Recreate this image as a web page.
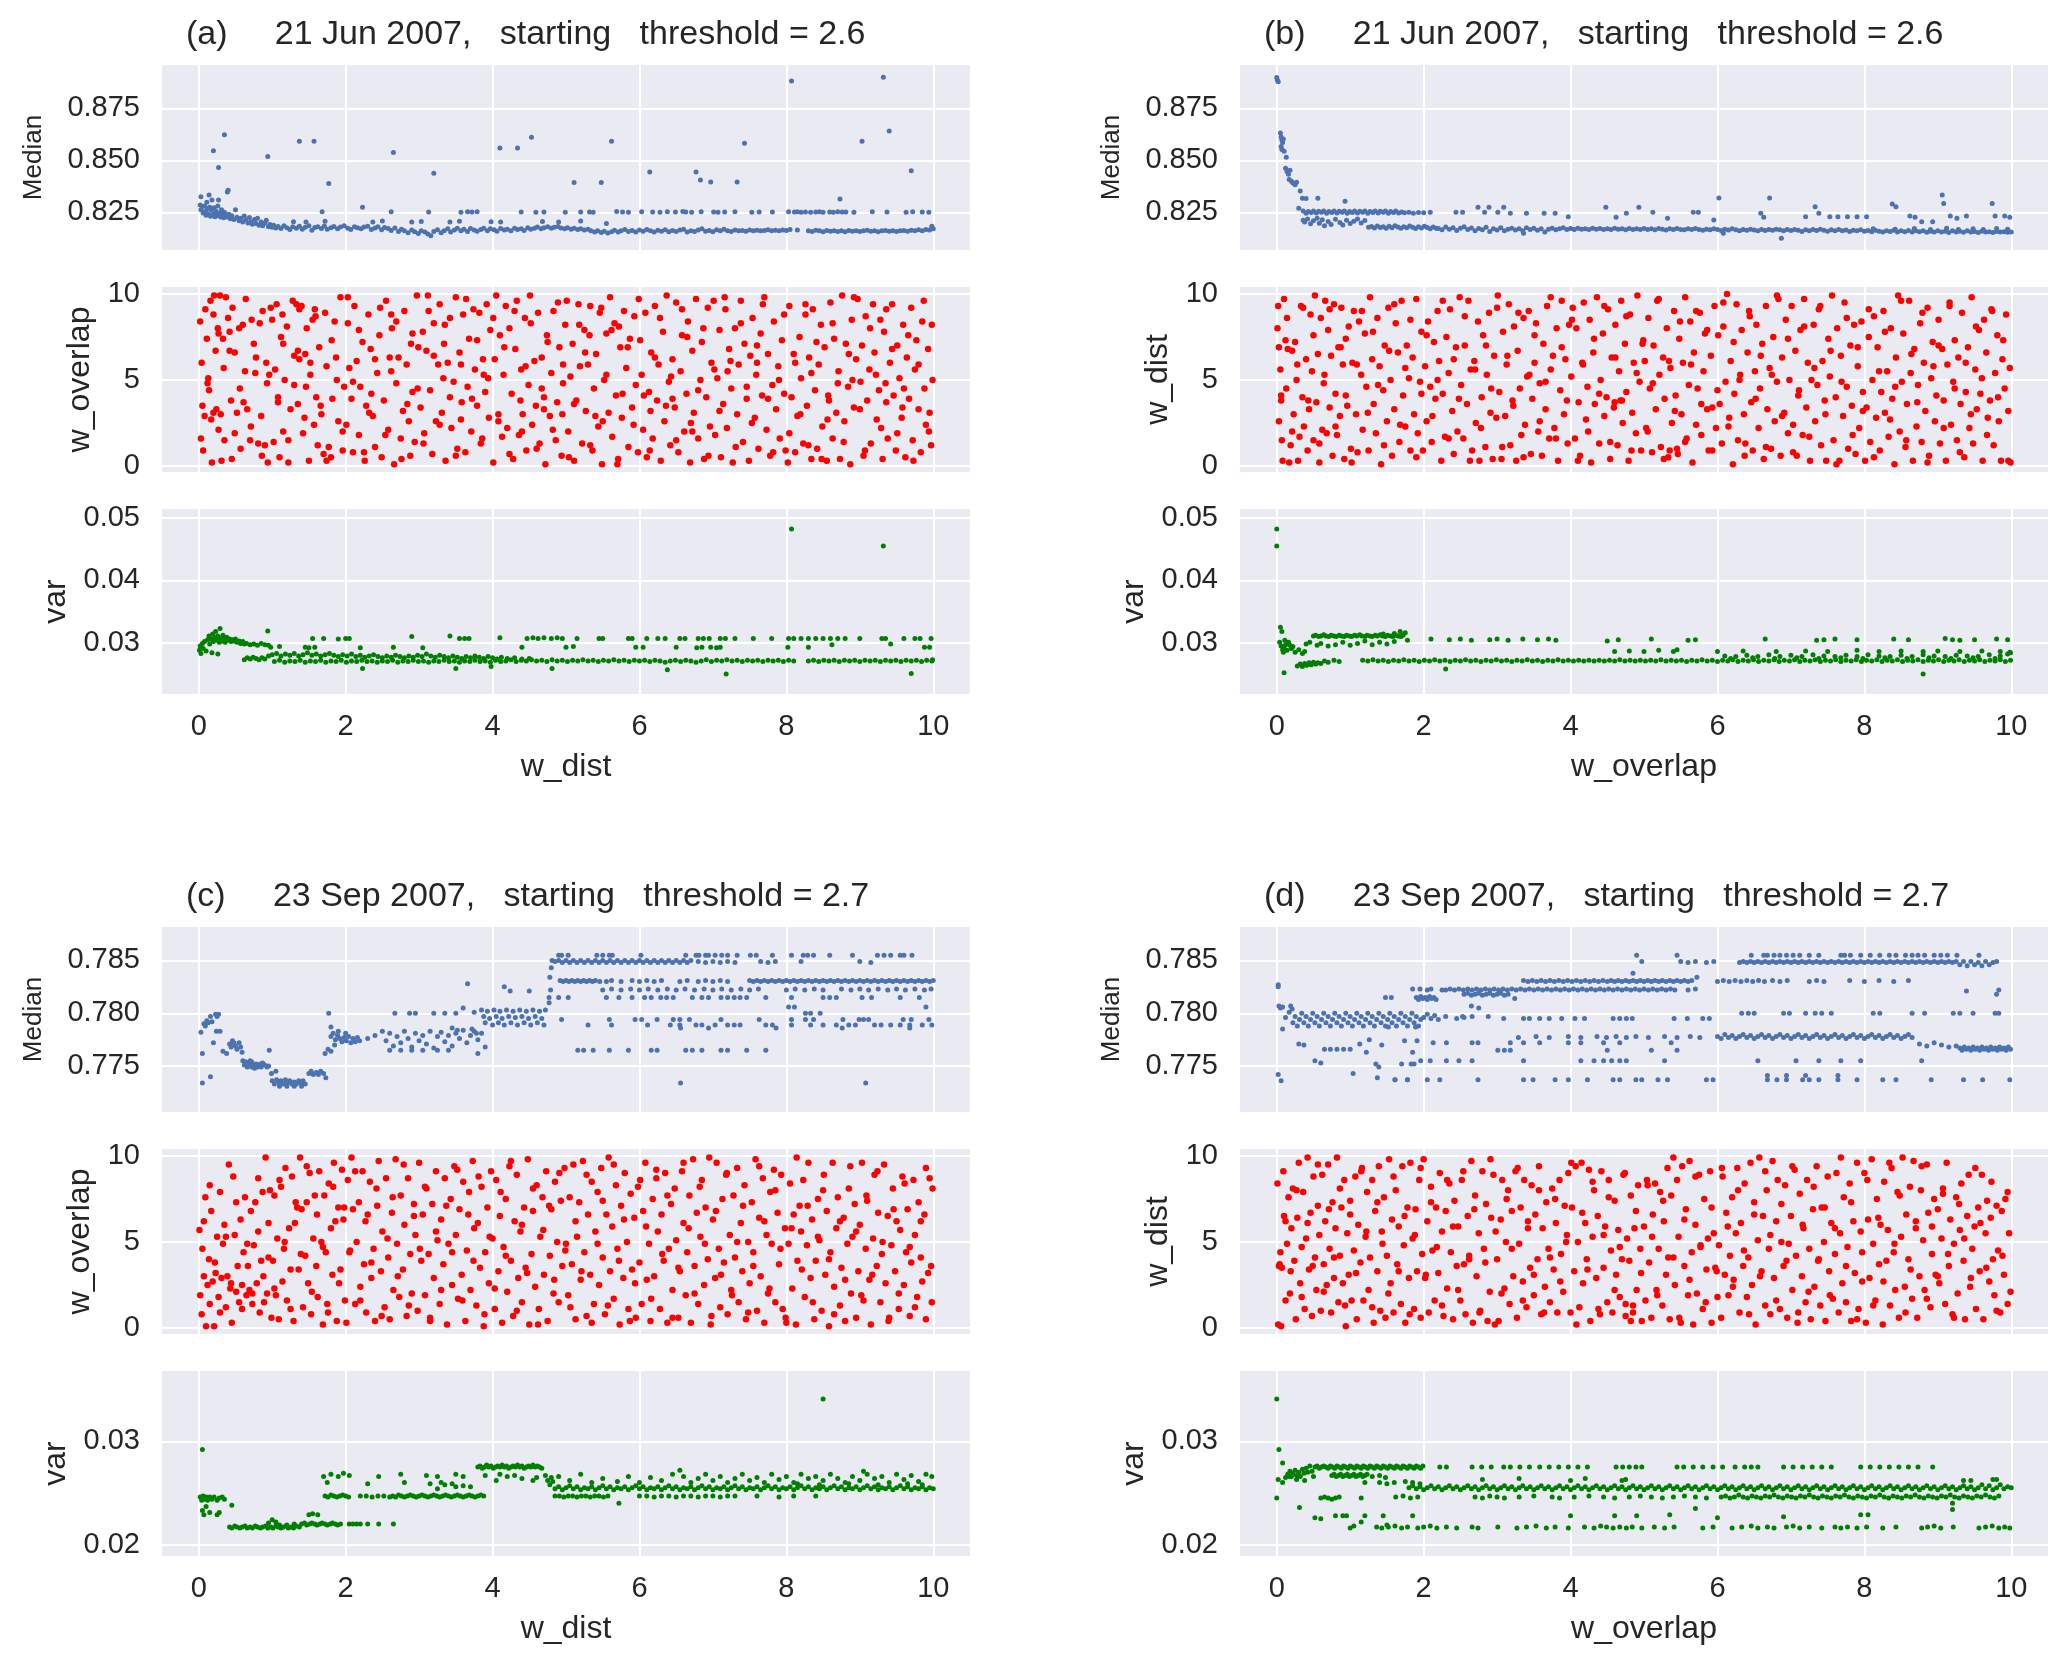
<!DOCTYPE html>
<html>
<head>
<meta charset="utf-8">
<script src="https://cdn.jsdelivr.net/npm/echarts@6/dist/echarts.min.js"></script>
<style>html,body{margin:0;padding:0;background:#fff}#chart{width:2067px;height:1667px}</style>
</head>
<body>
<div id="chart"></div>
<script>
// tick values
var xTicks = [0, 2, 4, 6, 8, 10];
var wTicks = [0, 5, 10];
var junMedTicks = [0.825, 0.850, 0.875];
var junVarTicks = [0.03, 0.04, 0.05];
var sepMedTicks = [0.775, 0.780, 0.785];
var sepVarTicks = [0.02, 0.03];

// 21 Jun 2007 : Median vs w_dist
var junMedVsDist = [
[0.2,.8546],[0.27,.8465],[0.35,.8623],[0.39,.8348],[0.94,.8518],[1.37,.8591],[1.57,.8591],[1.77,.8389],[1.68,.8253],[2.23,.8274],[2.65,.8537],[3.2,.8438],[4.1,.8559],[4.34,.8559],[4.53,.8611],[5.11,.8393],[5.48,.8393],[5.62,.8591],[6.14,.8444],[6.77,.8444],[6.83,.8405],[6.97,.8396],[7.33,.8396],[7.43,.8582],[8.07,.8881],[8.73,.8314],[9.03,.8591],[9.32,.8899],[9.4,.8641],[9.7,.845],
[0.03,.8325],[0.14,.8333],[0.27,.8309],[0.4,.8356],
[0.02,.8285],[0.03,.8262],[0.05,.8278],[0.06,.8247],[0.08,.8281],[0.09,.8255],[0.1,.8236],[0.11,.8299],[0.12,.8268],[0.13,.8243],[0.15,.8275],[0.16,.8231],[0.17,.8262],[0.18,.8309],[0.19,.8241],[0.21,.8272],[0.22,.8229],[0.23,.8256],[0.24,.8238],[0.26,.8281],[0.27,.8233],[0.28,.8248],[0.3,.8227],[0.31,.8262],[0.32,.8239],[0.34,.8224],[0.35,.8251],[0.37,.8232],
[0.39,.8228],[0.41,.8241],[0.43,.8219],[0.45,.8233],[0.48,.8215],[0.5,.8262],[0.52,.8226],[0.55,.8209],[0.57,.8221],[0.6,.8204],[0.62,.8232],[0.64,.8214],[0.67,.8199],[0.69,.8225],[0.71,.8205],[0.73,.8193],[0.76,.8215],[0.78,.8196],[0.8,.8221],[0.82,.8188],[0.85,.8203],[0.87,.8185],[0.9,.8198],[0.92,.8212],[0.95,.8181],[0.97,.8192],[1.0,.8178],[1.02,.8188],[1.05,.8175],
[1.08,.8182],[1.12,.8172],[1.16,.8185],[1.2,.8176],[1.24,.8168],[1.28,.8181],[1.33,.8174],[1.37,.8183],[1.41,.8169],[1.45,.8178],[1.5,.8186],[1.54,.8164],[1.58,.8177],[1.62,.8181],[1.67,.8172],[1.71,.8184],[1.75,.8169],[1.8,.8176],[1.84,.8182],[1.89,.8171],[1.93,.8179],[1.98,.8185],[2.03,.8174],[2.07,.8168],[2.12,.8181],[2.16,.8176],[2.21,.8171],[2.25,.8179],[2.3,.8183],[2.35,.8168],[2.4,.8175],[2.44,.8181],[2.49,.8166],[2.53,.8177],[2.58,.8172],[2.62,.8163],[2.67,.8175],[2.72,.8158],[2.76,.8169],[2.8,.8161],[2.85,.8152],[2.9,.8165],[2.94,.8157],[2.99,.8148],[3.03,.8162],[3.08,.8155],[3.12,.8146],[3.16,.8138],[3.2,.8158],[3.25,.8166],[3.3,.8152],[3.34,.8161],[3.39,.8171],[3.43,.8156],[3.48,.8165],[3.52,.8174],[3.57,.8161],[3.61,.8169],[3.66,.8158],[3.7,.8172],[3.75,.8165],[3.79,.8159],[3.84,.8168],[3.88,.8174],[3.93,.8162],[3.97,.8171],[4.02,.8166],[4.06,.8159],[4.11,.8172],[4.16,.8165],[4.2,.8169],[4.25,.8161],[4.3,.8174],[4.34,.8167],[4.39,.8171],[4.43,.8163],[4.48,.8176],[4.52,.8169],[4.57,.8174],[4.61,.8179],[4.66,.8171],[4.7,.8176],[4.75,.8181],[4.8,.8173],[4.84,.8178],[4.89,.8182],[4.93,.8175],[4.98,.8171],[5.02,.8176],[5.07,.8169],[5.11,.8173],[5.16,.8167],[5.2,.8171],[5.25,.8165],[5.3,.8169],[5.34,.8161],[5.39,.8156],[5.43,.8162],[5.48,.8153],[5.52,.8159],[5.57,.8151],[5.62,.8157],[5.66,.8164],[5.71,.8155],[5.75,.8161],[5.8,.8167],[5.85,.8158],[5.9,.8163],[5.95,.8156],[6.0,.8165],[6.05,.8159],[6.1,.8168],[6.15,.8161],[6.2,.8156],[6.25,.8164],[6.3,.8159],[6.35,.8166],[6.4,.8157],[6.45,.8163],[6.5,.8158],[6.55,.8165],[6.6,.8169],[6.65,.8156],[6.7,.8162],[6.75,.8158],[6.8,.8165],[6.85,.8171],[6.9,.8159],[6.95,.8163],[7.0,.8157],[7.05,.8166],[7.1,.8161],[7.15,.8169],[7.2,.8162],[7.25,.8158],[7.3,.8165],[7.35,.8161],[7.4,.8163],[7.45,.8159],[7.5,.8165],[7.55,.8162],[7.6,.8164],[7.65,.8161],[7.7,.8163],[7.75,.8166],[7.8,.8162],[7.85,.8164],[7.9,.8161],[7.95,.8165],[8.0,.8163],[8.05,.8167],[8.15,.8165],[8.3,.8162],[8.35,.8158],[8.4,.8164],[8.45,.8161],[8.5,.8157],[8.55,.8163],[8.6,.8159],[8.65,.8162],[8.7,.8158],[8.75,.8161],[8.8,.8157],[8.85,.8163],[8.9,.8159],[8.95,.8162],[9.0,.8158],[9.05,.8161],[9.1,.8164],[9.15,.8159],[9.2,.8162],[9.25,.8157],[9.3,.8161],[9.35,.8163],[9.4,.8159],[9.45,.8162],[9.5,.8158],[9.55,.8161],[9.6,.8163],[9.65,.8159],[9.7,.8164],[9.75,.8161],[9.8,.8166],[9.85,.8162],[9.9,.8168],[9.95,.8165],[10.0,.8171],[9.98,.8183],
[1.29,.8205],[1.46,.8203],[1.72,.8207],[2.37,.8204],[2.5,.8208],[2.9,.8203],[3.03,.8206],[3.42,.8204],[3.55,.8207],[3.98,.8205],[4.11,.8203],[4.68,.8206],[4.9,.8204],[5.2,.8208],[5.55,.8196],
[2.62,.8253],[3.13,.8252],[3.57,.8251],[3.66,.8253],[3.72,.8252],[3.79,.8253],[4.39,.8252],[4.59,.8251],[4.7,.8252],[4.99,.8251],[5.2,.8252],[5.32,.8252],[5.37,.8251],[5.69,.8254],[5.77,.8252],[5.85,.8251],[6.03,.8253],[6.18,.8252],[6.28,.8251],[6.38,.8253],[6.49,.8252],[6.59,.8254],[6.63,.8252],[6.71,.8251],[6.84,.8253],[7.01,.8252],[7.07,.8251],[7.16,.8252],[7.3,.8253],[7.53,.8251],[7.63,.8252],[7.81,.8252],[8.03,.8253],[8.11,.8252],[8.15,.8253],[8.2,.8251],[8.26,.8252],[8.33,.8251],[8.4,.8252],[8.45,.8253],[8.5,.8251],[8.59,.8252],[8.64,.8251],[8.7,.8253],[8.76,.8252],[8.81,.8252],[8.92,.8251],[9.17,.8253],[9.37,.8252],[9.63,.8251],[9.72,.8253],[9.85,.8252],[9.94,.8251]
];

// 21 Jun 2007 : w_overlap vs w_dist
var junOverlapVsDist = [
[0.02,8.4],[0.04,6.0],[0.03,1.6],[0.06,0.9],[0.09,9.1],[0.11,7.4],[0.13,5.1],[0.14,4.4],[0.16,9.6],[0.17,2.7],[0.18,0.2],[0.21,9.9],[0.23,6.7],[0.24,3.3],[0.26,8.0],[0.29,9.9],[0.3,3.0],[0.31,0.3],[0.33,7.4],[0.35,1.5],[0.37,9.8],[0.4,8.6],[0.42,6.7],[0.44,3.8],[0.46,9.2],[0.49,6.6],[0.52,3.1],[0.55,8.0],[0.57,1.0],[0.61,3.7],[0.63,5.5],[0.66,3.3],[0.7,1.5],[0.72,8.5],[0.75,7.1],[0.77,5.4],[0.81,1.3],[0.85,2.9],[0.87,9.0],[0.9,1.2],[0.92,6.0],[0.94,0.2],[0.96,5.3],[0.98,9.2],[0.08,2.9],[0.2,3.1],[0.27,7.7],[0.45,0.4],[0.6,8.2],[0.83,8.3],
[1.02,1.4],[1.04,5.6],[1.06,9.4],[1.08,4.0],[1.1,0.5],[1.12,7.5],[1.15,2.0],[1.17,5.0],[1.2,8.1],[1.22,0.2],[1.25,3.3],[1.28,9.6],[1.3,6.4],[1.33,9.4],[1.35,3.6],[1.37,6.2],[1.4,9.3],[1.42,1.9],[1.45,6.5],[1.47,8.0],[1.5,0.3],[1.52,5.3],[1.55,8.5],[1.57,2.4],[1.6,4.0],[1.62,1.2],[1.64,6.9],[1.67,3.0],[1.7,0.7],[1.72,8.9],[1.74,5.8],[1.77,1.1],[1.8,0.5],[1.82,3.9],[1.85,8.4],[1.87,6.3],[1.9,2.6],[1.93,9.8],[1.96,0.9],[1.98,4.6],[1.35,6.7],[1.58,9.1],[1.14,8.8],[1.46,4.6],
[2.01,2.4],[2.03,8.3],[2.05,5.7],[2.08,3.9],[2.1,0.8],[2.12,9.3],[2.15,6.1],[2.18,1.8],[2.2,4.6],[2.23,7.2],[2.26,0.3],[2.28,3.5],[2.31,8.8],[2.34,6.8],[2.37,2.9],[2.4,1.1],[2.43,5.4],[2.46,7.6],[2.49,0.5],[2.52,3.8],[2.55,9.6],[2.58,2.1],[2.6,6.3],[2.63,8.0],[2.66,0.1],[2.69,4.8],[2.72,6.3],[2.75,1.6],[2.78,3.2],[2.8,9.0],[2.83,5.9],[2.86,2.6],[2.89,7.1],[2.91,4.3],[2.94,1.4],[2.97,9.9],[2.99,6.9],[2.35,4.2],[2.62,8.8],[2.88,0.6],
[3.02,3.4],[3.05,7.8],[3.07,1.9],[3.1,6.7],[3.12,9.9],[3.15,4.4],[3.18,0.7],[3.2,8.3],[3.23,2.6],[3.26,5.9],[3.28,9.4],[3.31,3.1],[3.34,7.1],[3.36,0.3],[3.39,6.0],[3.42,8.6],[3.44,2.2],[3.47,4.9],[3.5,9.8],[3.52,1.0],[3.55,6.6],[3.58,3.7],[3.6,8.8],[3.63,0.8],[3.66,4.6],[3.68,7.4],[3.71,2.0],[3.74,9.1],[3.76,5.6],[3.79,3.5],[3.82,8.9],[3.84,1.3],[3.87,6.2],[3.9,4.3],[3.92,9.4],[3.95,2.8],[3.97,7.9],[3.33,5.1],[3.57,2.7],[3.88,5.3],
[4.01,0.2],[4.03,6.2],[4.05,9.9],[4.08,3.0],[4.1,7.6],[4.13,1.7],[4.15,5.3],[4.18,9.3],[4.2,2.2],[4.23,8.0],[4.26,4.2],[4.28,0.4],[4.31,6.8],[4.33,9.6],[4.36,1.8],[4.39,5.6],[4.41,3.0],[4.44,8.6],[4.46,0.9],[4.49,4.7],[4.51,9.9],[4.54,2.4],[4.57,6.1],[4.59,3.5],[4.62,8.9],[4.64,1.3],[4.67,6.3],[4.7,4.0],[4.72,0.1],[4.75,7.2],[4.78,2.9],[4.8,5.4],[4.83,9.0],[4.86,1.5],[4.88,3.7],[4.91,6.9],[4.94,0.6],[4.96,4.8],[4.99,8.2],[4.4,2.0],[4.7,3.3],[4.95,3.0],
[5.01,9.6],[5.03,2.0],[5.06,5.2],[5.09,7.1],[5.11,0.3],[5.14,3.8],[5.17,9.4],[5.19,5.8],[5.22,1.3],[5.25,7.9],[5.27,3.2],[5.3,5.9],[5.33,9.3],[5.36,0.9],[5.38,4.5],[5.41,6.5],[5.44,2.3],[5.46,8.9],[5.49,0.1],[5.52,5.0],[5.55,7.7],[5.58,3.1],[5.6,9.8],[5.63,1.7],[5.66,8.3],[5.68,4.1],[5.71,0.4],[5.74,6.9],[5.76,2.8],[5.79,9.0],[5.82,5.7],[5.85,1.1],[5.87,7.4],[5.9,3.4],[5.93,8.7],[5.95,4.7],[5.98,0.8],[5.5,2.6],[5.72,8.1],[5.32,7.6],
[6.01,7.3],[6.03,5.3],[6.05,2.1],[6.08,8.9],[6.1,0.5],[6.13,4.3],[6.16,6.6],[6.18,1.6],[6.21,9.3],[6.24,3.8],[6.26,5.9],[6.29,0.3],[6.32,7.8],[6.34,2.6],[6.37,9.9],[6.4,4.9],[6.42,1.2],[6.45,6.2],[6.48,3.4],[6.5,9.5],[6.53,0.8],[6.56,5.5],[6.58,7.6],[6.61,2.0],[6.64,4.2],[6.66,8.4],[6.69,0.2],[6.72,6.7],[6.74,3.1],[6.77,9.7],[6.8,1.6],[6.83,5.0],[6.85,7.2],[6.88,0.4],[6.91,4.0],[6.93,9.2],[6.96,2.3],[6.98,6.0],[6.15,3.2],[6.45,3.9],[6.7,2.5],
[7.01,9.6],[7.03,1.8],[7.06,5.1],[7.09,7.9],[7.11,0.5],[7.14,3.6],[7.17,9.1],[7.19,2.2],[7.22,6.8],[7.25,4.5],[7.27,0.2],[7.3,8.0],[7.33,3.0],[7.35,5.9],[7.38,9.6],[7.41,1.4],[7.43,7.1],[7.46,3.9],[7.49,0.3],[7.51,6.4],[7.54,8.6],[7.57,2.8],[7.59,5.3],[7.62,1.0],[7.65,7.7],[7.67,4.1],[7.7,9.8],[7.73,2.1],[7.75,6.5],[7.78,0.6],[7.81,4.7],[7.83,8.4],[7.86,3.3],[7.89,5.8],[7.91,1.6],[7.94,7.3],[7.97,4.2],[7.99,0.9],[7.2,5.5],[7.6,6.0],
[8.02,0.2],[8.04,9.3],[8.07,4.0],[8.1,6.5],[8.12,0.8],[8.15,2.9],[8.18,7.5],[8.2,5.1],[8.23,1.3],[8.26,8.8],[8.28,3.5],[8.31,6.3],[8.34,0.4],[8.36,9.1],[8.39,4.4],[8.42,1.0],[8.44,5.9],[8.47,8.2],[8.49,2.3],[8.52,6.9],[8.55,0.3],[8.57,4.1],[8.6,9.5],[8.63,1.6],[8.65,7.4],[8.68,3.1],[8.71,5.5],[8.73,0.4],[8.76,9.9],[8.79,2.6],[8.81,7.1],[8.84,4.6],[8.87,0.1],[8.89,8.5],[8.92,3.4],[8.95,6.2],[8.97,9.7],[8.3,1.2],[8.58,3.8],[8.9,5.0],
[9.01,4.9],[9.03,7.0],[9.05,0.6],[9.08,8.7],[9.1,3.8],[9.13,5.6],[9.15,1.3],[9.18,9.4],[9.2,6.6],[9.23,2.7],[9.26,4.4],[9.28,8.5],[9.31,0.4],[9.33,7.8],[9.36,3.7],[9.38,1.6],[9.41,6.0],[9.44,9.4],[9.46,4.1],[9.49,0.9],[9.51,7.0],[9.54,5.1],[9.57,2.8],[9.59,8.2],[9.62,0.5],[9.64,6.3],[9.67,3.9],[9.7,9.2],[9.72,1.5],[9.75,5.6],[9.77,7.3],[9.8,3.3],[9.83,0.8],[9.85,8.4],[9.88,4.5],[9.9,2.4],[9.93,6.8],[9.95,3.1],[9.98,8.2],[9.99,5.0],[9.97,1.2],[9.35,4.8],[9.6,4.5],
[9.94,2.0],[9.87,9.6],[9.8,5.9],[9.73,0.3],[9.66,7.6],[9.58,3.4],[9.51,1.9],[9.44,6.8],[9.36,9.1],[9.29,2.2],[9.22,5.3],[9.14,8.0],[9.07,0.9],[9.0,3.3],[8.92,9.8],[8.85,6.5],[8.78,1.4],[8.7,4.8],[8.63,8.3],[8.56,2.7],[8.48,0.4],[8.41,7.2],[8.34,5.4],[8.26,9.4],[8.19,3.0],[8.12,6.0],[8.04,1.9],[7.97,8.8],[7.9,5.0],[7.82,0.8],[7.75,3.9],[7.68,9.4],[7.6,7.0],[7.53,2.5],[7.46,4.6],[7.38,8.3],[7.31,1.1],[7.24,6.1],[7.16,9.8],[7.09,3.2],[7.02,5.6],[6.94,0.6],[6.87,8.0],[6.8,4.4],[6.72,2.0],[6.65,7.5],[6.58,9.1],[6.5,1.5],[6.43,5.2],[6.36,3.5],[6.28,8.6],[6.21,6.3],[6.14,0.9],[6.06,4.1],[5.99,9.7],[5.92,2.4],[5.84,6.9],[5.77,4.2],[5.7,0.1],[5.62,7.9],[5.55,5.3],[5.48,9.2],[5.4,2.9],[5.33,1.2],[5.26,6.6],[5.18,8.2],[5.11,3.6],[5.04,0.5],[4.96,5.9],[4.89,9.5],[4.82,2.1],[4.74,7.6],[4.67,4.5],[4.6,1.0],[4.52,8.3],[4.45,5.8],[4.38,3.8],[4.3,9.0],[4.23,0.7],[4.16,6.9],[4.08,2.6],[4.01,8.6],[3.94,5.1],[3.86,1.6],[3.79,7.3],[3.72,3.9],[3.64,9.7],[3.57,5.9],[3.5,0.6],[3.42,4.0],[3.35,8.2],[3.28,2.4],[3.2,6.4],[3.13,9.0],[3.06,1.3],[2.98,4.5],[2.91,7.7],[2.84,3.6],[2.76,0.4],[2.69,8.4],[2.62,5.5],[2.54,1.8],[2.47,9.2],[2.4,6.2],[2.32,3.1],[2.25,0.8],[2.18,7.9],[2.1,4.9],[2.03,9.8],[1.96,2.0],[1.88,5.0],[1.81,7.3],[1.74,0.3],[1.66,3.5],[1.59,8.7],[1.52,6.0],[1.44,2.8],[1.37,9.1],[1.3,4.7],[1.22,1.5],[1.15,7.1],[1.08,3.7],[1.0,8.5],[0.93,4.8],[0.86,0.6],[0.78,6.3],[0.71,2.3],[0.64,9.7],[0.56,4.5],[0.49,1.9],[0.42,7.8],[0.34,5.7],[0.27,2.1],[0.2,8.8],[0.12,4.8],[0.05,3.5]
];

// 21 Jun 2007 : var vs w_dist
var junVarVsDist = [
[8.07,.0482],[9.32,.0455],[7.18,.0250],[9.7,.0251],[6.38,.0257],[2.23,.0259],[3.5,.0259],[4.81,.0259],[3.98,.0262],[0.94,.0319],
[0.01,.0288],[0.02,.0295],[0.03,.0283],[0.05,.0299],[0.06,.0291],[0.08,.0302],[0.1,.0287],[0.18,.0284],[0.26,.0282],
[0.12,.0305],[0.14,.0311],[0.15,.0298],[0.17,.0306],[0.19,.0314],[0.2,.0302],[0.22,.0309],[0.23,.0318],[0.25,.0304],[0.26,.0311],[0.28,.0301],[0.29,.0323],[0.3,.0307],[0.32,.0303],[0.33,.0312],[0.35,.0306],[0.36,.0301],[0.38,.0309],[0.4,.0304],[0.42,.0306],[0.44,.0302],[0.46,.0305],[0.48,.0303],[0.5,.0306],[0.52,.0301],[0.55,.0303],[0.57,.0299],[0.6,.0302],[0.62,.0298],
[0.65,.0299],[0.7,.0297],[0.75,.0298],[0.8,.0296],[0.85,.0299],[0.9,.0297],[0.95,.0296],
[0.62,.0273],[0.66,.0276],[0.7,.0274],[0.74,.0277],[0.78,.0275],[0.82,.0273],[0.86,.0276],[0.9,.0274],[0.95,.0279],
[1.0,.0281],[1.06,.0283],[1.12,.0279],[1.18,.0282],[1.24,.0280],[1.3,.0283],[1.36,.0279],[1.42,.0281],[1.48,.0284],[1.54,.0280],[1.6,.0282],[1.66,.0279],[1.72,.0281],[1.78,.0283],[1.84,.0280],[1.9,.0278],[1.96,.0281],[2.02,.0279],[2.08,.0282],[2.14,.0278],[2.2,.0280],[2.26,.0277],[2.32,.0279],[2.38,.0281],[2.44,.0278],[2.5,.0276],[2.56,.0279],[2.62,.0277],[2.68,.0280],[2.74,.0278],[2.8,.0276],[2.86,.0279],[2.92,.0277],[2.98,.0280],[3.04,.0278],[3.1,.0282],[3.16,.0279],[3.22,.0277],[3.28,.0280],[3.34,.0278],[3.4,.0276],[3.46,.0279],[3.52,.0277],[3.58,.0275],[3.64,.0278],[3.7,.0276],[3.76,.0279],[3.82,.0277],[3.88,.0275],[3.94,.0278],[4.0,.0276],[4.06,.0274],[4.12,.0277],[4.2,.0275],[4.3,.0276],[4.4,.0274],[4.5,.0275],
[1.03,.0270],[1.1,.0272],[1.17,.0269],[1.24,.0271],[1.31,.0270],[1.38,.0272],[1.45,.0269],[1.52,.0271],[1.59,.0270],[1.66,.0272],[1.73,.0269],[1.8,.0271],[1.87,.0270],[1.94,.0272],[2.01,.0269],[2.08,.0271],[2.15,.0270],[2.22,.0272],[2.29,.0270],[2.36,.0271],[2.43,.0269],[2.5,.0271],[2.57,.0270],[2.64,.0272],[2.71,.0269],[2.78,.0271],[2.85,.0270],[2.92,.0272],[2.99,.0270],[3.06,.0271],[3.13,.0269],[3.2,.0271],[3.27,.0270],[3.34,.0272],[3.41,.0270],[3.48,.0271],[3.55,.0269],[3.62,.0271],[3.69,.0270],[3.76,.0272],[3.83,.0270],[3.9,.0271],[3.97,.0269],[4.04,.0272],[4.11,.0270],[4.18,.0271],[4.25,.0273],[4.32,.0270],[4.39,.0272],[4.46,.0271],[4.53,.0273],[4.6,.0271],[4.67,.0272],[4.74,.0270],[4.81,.0273],[4.88,.0271],[4.95,.0272],[5.02,.0270],[5.09,.0272],[5.16,.0271],[5.23,.0273],[5.3,.0271],[5.37,.0272],[5.44,.0270],[5.51,.0272],[5.58,.0271],[5.65,.0273],[5.72,.0271],[5.79,.0272],[5.86,.0270],[5.93,.0272],[6.0,.0271],[6.07,.0272],[6.14,.0270],[6.21,.0272],[6.28,.0271],[6.35,.0269],[6.42,.0271],[6.49,.0272],[6.56,.0270],[6.63,.0272],[6.7,.0271],[6.77,.0269],[6.84,.0271],[6.91,.0273],[6.98,.0270],[7.05,.0272],[7.12,.0271],[7.19,.0273],[7.26,.0271],[7.33,.0272],[7.4,.0270],[7.47,.0272],[7.54,.0271],[7.61,.0272],[7.68,.0270],[7.75,.0272],[7.82,.0271],[7.89,.0272],[7.96,.0270],[8.03,.0272],[8.1,.0271],[8.3,.0271],[8.37,.0272],[8.44,.0270],[8.51,.0272],[8.58,.0271],[8.65,.0272],[8.72,.0270],[8.79,.0272],[8.86,.0271],[8.93,.0272],[9.0,.0270],[9.07,.0272],[9.14,.0271],[9.21,.0272],[9.28,.0270],[9.35,.0272],[9.42,.0271],[9.49,.0272],[9.56,.0270],[9.63,.0272],[9.7,.0271],[9.77,.0272],[9.84,.0270],[9.91,.0272],[9.98,.0271],[9.99,.0273],
[1.55,.0307],[1.7,.0307],[1.9,.0306],[2.0,.0307],[2.05,.0307],[2.9,.0310],[3.42,.0311],[3.55,.0307],[3.62,.0307],[3.68,.0307],[4.1,.0308],[4.47,.0307],[4.55,.0308],[4.62,.0307],[4.7,.0308],[4.8,.0307],[4.88,.0308],[4.95,.0307],[5.15,.0307],[5.45,.0307],[5.5,.0307],[5.85,.0307],[5.9,.0307],[6.1,.0307],[6.25,.0307],[6.35,.0307],[6.55,.0307],[6.62,.0307],[6.8,.0307],[6.87,.0307],[6.95,.0307],[7.1,.0307],[7.17,.0307],[7.3,.0307],[7.55,.0307],[7.8,.0307],[8.03,.0307],[8.1,.0307],[8.2,.0307],[8.3,.0307],[8.4,.0307],[8.5,.0307],[8.6,.0307],[8.7,.0307],[8.8,.0307],[9.0,.0307],[9.3,.0307],[9.35,.0307],[9.6,.0307],[9.75,.0307],[9.82,.0307],[9.97,.0307],
[0.98,.0293],[1.1,.0294],[1.45,.0293],[1.5,.0292],[1.58,.0293],[2.2,.0292],[2.65,.0293],[3.05,.0292],[4.4,.0293],[5.0,.0293],[5.1,.0294],[5.95,.0293],[6.05,.0293],[6.5,.0293],[6.78,.0292],[6.85,.0293],[6.97,.0293],[7.05,.0292],[7.1,.0293],[8.02,.0293],[8.3,.0293],[8.62,.0297],[9.42,.0298],[9.88,.0293],[9.95,.0293]
];

// 21 Jun 2007 : Median vs w_overlap
var junMedVsOverlap = [
[0.0,.8898],[0.01,.8885],[0.02,.8877],[0.05,.8631],[0.06,.8612],[0.07,.8598],[0.08,.8585],[0.06,.8566],[0.07,.8552],[0.09,.8603],[0.1,.8543],[0.13,.8515],[0.12,.8462],[0.14,.8446],[0.18,.8452],[0.16,.8433],[0.17,.8408],[0.2,.8399],[0.22,.8391],[0.25,.8382],[0.27,.8395],[0.32,.8353],[0.35,.8318],[0.4,.8316],[0.56,.8318],[0.93,.8303],[0.3,.8270],
[0.36,.8256],[0.4,.8246],[0.43,.8254],[0.47,.8249],[0.5,.8256],[0.54,.8247],[0.57,.8255],[0.61,.8250],[0.64,.8256],[0.68,.8246],[0.71,.8254],[0.75,.8249],[0.78,.8256],[0.82,.8247],[0.85,.8255],[0.89,.8250],[0.92,.8256],[0.96,.8246],[0.99,.8254],[1.03,.8249],[1.06,.8256],[1.1,.8247],[1.13,.8255],[1.17,.8250],[1.2,.8256],[1.24,.8246],[1.27,.8254],[1.31,.8249],[1.34,.8256],[1.38,.8247],[1.41,.8255],[1.45,.8250],[1.48,.8256],[1.52,.8246],[1.55,.8254],[1.59,.8249],[1.62,.8256],[1.66,.8247],[1.7,.8252],[1.74,.8248],[1.8,.8250],[1.86,.8246],[1.93,.8249],[2.0,.8248],
[0.36,.8212],[0.38,.8203],[0.42,.8218],[0.46,.8195],[0.5,.8209],[0.55,.8221],[0.58,.8198],[0.62,.8214],[0.65,.8186],[0.7,.8206],[0.74,.8192],[0.8,.8217],[0.86,.8201],[0.9,.8189],[0.95,.8212],[1.0,.8196],[1.05,.8207],[1.1,.8218],[1.15,.8199],[1.2,.8211],
[1.25,.8178],[1.29,.8182],[1.33,.8175],[1.37,.8184],[1.41,.8177],[1.45,.8181],[1.49,.8174],[1.53,.8183],[1.57,.8176],[1.61,.8185],[1.65,.8179],[1.69,.8173],[1.73,.8181],[1.77,.8176],[1.81,.8184],[1.85,.8178],[1.89,.8172],[1.93,.8181],[1.97,.8175],[2.01,.8183],[2.05,.8177],[2.09,.8171],[2.13,.8179],[2.17,.8174],
[2.2,.8172],[2.25,.8166],[2.3,.8179],[2.35,.8169],[2.4,.8176],[2.45,.8163],[2.5,.8174],[2.55,.8181],[2.6,.8168],[2.65,.8175],[2.7,.8161],[2.75,.8172],[2.8,.8166],[2.85,.8178],[2.9,.8158],[2.95,.8171],[3.0,.8165],[3.05,.8176],[3.1,.8162],[3.15,.8169],[3.2,.8174],[3.25,.8165],[3.3,.8171],[3.35,.8161],[3.4,.8176],[3.45,.8168],[3.5,.8173],[3.55,.8164],[3.6,.8171],[3.65,.8155],[3.7,.8169],[3.75,.8174],[3.8,.8166],[3.85,.8171],[3.9,.8176],[3.95,.8167],[4.0,.8172],[4.05,.8168],[4.1,.8174],[4.15,.8169],[4.2,.8171],[4.25,.8167],[4.3,.8173],[4.35,.8169],[4.4,.8172],[4.45,.8168],[4.5,.8171],[4.55,.8167],[4.6,.8173],[4.65,.8169],[4.7,.8171],[4.75,.8166],[4.8,.8172],[4.85,.8168],[4.9,.8171],[4.95,.8167],[5.0,.8172],[5.05,.8168],[5.1,.8171],[5.15,.8166],[5.2,.8172],[5.25,.8169],[5.3,.8165],[5.35,.8171],[5.4,.8167],[5.45,.8172],[5.5,.8168],[5.55,.8166],[5.6,.8171],[5.65,.8167],[5.7,.8172],[5.75,.8168],[5.8,.8164],[5.85,.8169],[5.9,.8166],[5.95,.8171],[6.0,.8167],[6.05,.8163],[6.1,.8169],[6.15,.8165],[6.2,.8171],[6.25,.8166],[6.3,.8162],[6.35,.8168],[6.4,.8164],[6.45,.8169],[6.5,.8165],[6.55,.8161],[6.6,.8167],[6.65,.8163],[6.7,.8168],[6.75,.8164],[6.8,.8169],[6.85,.8166],[6.9,.8161],[6.95,.8167],[7.0,.8163],[7.05,.8168],[7.1,.8164],[7.15,.8158],[7.2,.8166],[7.25,.8162],[7.3,.8167],[7.35,.8163],[7.4,.8169],[7.45,.8164],[7.5,.8159],[7.55,.8166],[7.6,.8162],[7.65,.8167],[7.7,.8161],[7.75,.8165],[7.8,.8158],[7.85,.8164],[7.9,.8161],[7.95,.8166],[8.0,.8159],[8.05,.8163],[8.1,.8157],[8.15,.8164],[8.2,.8159],[8.25,.8155],[8.3,.8162],[8.35,.8158],[8.4,.8164],[8.45,.8156],[8.5,.8161],[8.55,.8157],[8.6,.8163],[8.65,.8155],[8.7,.8161],[8.75,.8157],[8.8,.8162],[8.85,.8154],[8.9,.8159],[8.95,.8156],[9.0,.8162],[9.05,.8155],[9.1,.8159],[9.15,.8153],[9.2,.8161],[9.25,.8156],[9.3,.8159],[9.35,.8154],[9.4,.8161],[9.45,.8155],[9.5,.8158],[9.55,.8153],[9.6,.8159],[9.65,.8155],[9.7,.8157],[9.75,.8153],[9.8,.8158],[9.85,.8155],[9.9,.8157],[9.95,.8154],[10.0,.8156],
[8.12,.8171],[8.42,.8169],[8.68,.8172],[8.9,.8168],[9.12,.8173],[9.28,.8168],[9.48,.8171],[9.62,.8167],[9.8,.8172],[9.95,.8169],[6.87,.8126],[6.08,.8149],[3.36,.8149],
[2.09,.8250],[2.44,.8250],[2.53,.8250],[2.74,.8274],[2.83,.8250],[2.89,.8274],[3.01,.8250],[3.09,.8274],[3.18,.8245],[3.4,.8245],[3.64,.8245],[3.79,.8245],[3.97,.8229],[4.48,.8274],[4.62,.8226],[4.76,.8245],[4.93,.8274],[5.12,.8250],[5.32,.8221],[5.67,.8250],[5.74,.8250],[6.02,.8319],[5.95,.8213],[6.59,.8245],[6.63,.8226],[6.71,.8319],[7.2,.8229],[7.33,.8277],[7.38,.8245],[7.53,.8229],[7.64,.8229],[7.77,.8229],[7.9,.8229],[8.03,.8229],[8.38,.8290],[8.43,.8277],[8.62,.8232],[8.69,.8226],[8.78,.8205],[8.93,.8205],[9.06,.8333],[9.08,.8293],[9.17,.8232],[9.26,.8221],[9.39,.8232],[9.74,.8293],[9.78,.8232],[9.91,.8232],[9.98,.8226]
];

// 21 Jun 2007 : w_dist vs w_overlap
var junDistVsOverlap = [
[0.01,8.0],[0.02,9.3],[0.03,2.6],[0.05,5.6],[0.06,4.1],[0.07,1.5],[0.08,0.3],[0.1,9.7],[0.12,7.3],[0.13,4.5],[0.15,6.8],[0.17,0.2],[0.19,1.2],[0.21,6.7],[0.23,3.0],[0.25,7.2],[0.27,5.0],[0.29,0.3],[0.31,1.7],[0.33,9.3],[0.35,4.0],[0.37,2.3],[0.4,6.2],[0.42,0.9],[0.44,3.3],[0.46,8.8],[0.48,5.5],[0.5,1.5],[0.52,9.9],[0.54,3.7],[0.56,6.5],[0.58,0.2],[0.6,8.6],[0.62,2.1],[0.64,4.8],[0.66,9.6],[0.68,1.9],[0.7,7.9],[0.72,3.4],[0.74,6.4],[0.76,0.6],[0.78,9.4],[0.8,4.2],[0.82,1.8],[0.84,6.9],[0.86,2.9],[0.88,9.2],[0.9,5.9],[0.92,0.4],[0.94,7.4],[0.96,3.5],[0.98,8.1],
[1.01,1.0],[1.03,6.0],[1.05,9.0],[1.08,3.0],[1.1,0.8],[1.12,8.4],[1.15,5.3],[1.17,2.1],[1.2,7.7],[1.22,4.6],[1.25,0.9],[1.27,9.8],[1.3,6.2],[1.32,3.6],[1.35,1.9],[1.37,8.6],[1.4,5.8],[1.42,0.1],[1.45,4.4],[1.47,7.0],[1.5,2.6],[1.52,9.2],[1.55,5.0],[1.57,0.6],[1.6,3.3],[1.62,8.3],[1.65,6.6],[1.67,1.4],[1.7,9.6],[1.72,4.1],[1.75,2.3],[1.77,7.0],[1.8,5.1],[1.82,0.9],[1.85,6.3],[1.87,3.0],[1.9,9.7],[1.92,1.9],[1.95,4.9],[1.97,7.8],[1.99,0.9],
[2.02,5.8],[2.04,2.6],[2.06,8.4],[2.09,4.6],[2.11,1.4],[2.14,7.2],[2.16,3.9],[2.19,9.0],[2.21,6.1],[2.24,0.3],[2.26,4.2],[2.29,1.7],[2.31,7.5],[2.34,5.4],[2.36,9.1],[2.39,3.2],[2.41,0.7],[2.44,6.9],[2.46,2.0],[2.49,9.8],[2.51,4.7],[2.54,1.6],[2.56,7.0],[2.59,3.6],[2.61,9.6],[2.64,5.6],[2.66,0.9],[2.69,6.1],[2.71,2.5],[2.74,8.4],[2.76,0.3],[2.79,4.0],[2.81,7.6],[2.84,1.1],[2.86,5.3],[2.89,8.9],[2.91,3.1],[2.94,0.4],[2.96,6.4],[2.99,2.8],
[3.01,9.9],[3.03,4.3],[3.06,0.4],[3.08,7.8],[3.11,2.9],[3.13,5.9],[3.16,9.4],[3.18,1.2],[3.21,3.8],[3.23,8.1],[3.26,0.3],[3.28,6.7],[3.31,4.5],[3.33,1.8],[3.36,8.6],[3.38,2.4],[3.41,5.2],[3.43,9.0],[3.46,0.7],[3.48,3.9],[3.51,6.0],[3.53,8.3],[3.56,2.0],[3.58,4.8],[3.61,0.6],[3.63,7.1],[3.66,3.3],[3.68,9.3],[3.71,1.6],[3.73,5.6],[3.76,6.4],[3.78,2.2],[3.81,8.0],[3.83,0.3],[3.86,4.4],[3.88,9.6],[3.91,3.0],[3.93,6.2],[3.96,1.3],[3.98,8.2],
[4.01,5.2],[4.03,9.2],[4.06,1.6],[4.08,8.0],[4.11,3.7],[4.13,0.6],[4.16,6.0],[4.18,9.5],[4.21,2.7],[4.23,4.6],[4.26,8.5],[4.28,0.2],[4.31,6.6],[4.33,3.6],[4.36,9.8],[4.39,1.3],[4.41,5.0],[4.44,7.7],[4.46,2.9],[4.49,4.0],[4.51,9.1],[4.54,0.4],[4.56,6.3],[4.59,3.4],[4.61,8.2],[4.64,1.2],[4.66,5.5],[4.69,9.6],[4.71,2.5],[4.74,7.1],[4.76,4.3],[4.79,0.3],[4.81,8.8],[4.84,3.1],[4.86,6.0],[4.89,1.9],[4.91,9.9],[4.94,4.9],[4.96,0.9],[4.99,7.3],[4.6,3.7],[4.7,3.8],
[5.01,6.1],[5.03,2.2],[5.06,8.6],[5.08,4.5],[5.11,0.8],[5.13,7.0],[5.16,3.3],[5.18,9.6],[5.21,5.3],[5.23,1.1],[5.26,6.3],[5.28,3.9],[5.31,8.0],[5.33,0.5],[5.36,5.7],[5.38,2.5],[5.41,9.0],[5.43,4.1],[5.46,0.7],[5.48,7.4],[5.51,3.0],[5.53,6.0],[5.56,9.8],[5.58,1.6],[5.61,4.7],[5.63,8.4],[5.66,0.2],[5.68,6.6],[5.71,2.4],[5.73,4.5],[5.76,8.9],[5.78,1.8],[5.81,5.5],[5.83,7.7],[5.86,3.3],[5.88,0.9],[5.91,6.4],[5.93,3.4],[5.96,9.3],[5.98,2.2],[5.35,0.9],[5.45,1.0],
[6.01,7.6],[6.03,3.6],[6.06,1.3],[6.08,8.1],[6.11,4.9],[6.13,10.0],[6.16,2.8],[6.18,6.1],[6.21,0.1],[6.23,4.2],[6.26,9.4],[6.28,1.5],[6.31,5.3],[6.33,7.9],[6.36,3.0],[6.38,1.3],[6.41,6.6],[6.43,9.0],[6.46,3.7],[6.48,0.9],[6.51,5.5],[6.53,8.2],[6.56,2.2],[6.58,4.5],[6.61,7.1],[6.63,0.4],[6.66,9.3],[6.68,3.3],[6.71,5.7],[6.73,1.0],[6.76,7.5],[6.78,2.6],[6.81,4.9],[6.83,9.7],[6.86,0.6],[6.88,6.3],[6.91,3.1],[6.93,8.5],[6.96,1.9],[6.98,5.0],
[7.01,9.3],[7.03,2.4],[7.06,6.7],[7.08,0.6],[7.11,4.4],[7.13,7.9],[7.16,1.8],[7.18,9.7],[7.21,3.4],[7.23,6.0],[7.26,0.3],[7.28,5.0],[7.31,8.2],[7.33,2.6],[7.36,4.7],[7.38,9.1],[7.41,1.2],[7.43,6.1],[7.46,3.8],[7.48,0.3],[7.51,7.4],[7.53,5.2],[7.56,9.9],[7.58,1.5],[7.61,4.0],[7.63,8.0],[7.66,0.3],[7.68,6.4],[7.71,2.9],[7.73,9.5],[7.76,4.6],[7.78,1.0],[7.81,7.0],[7.83,3.5],[7.86,8.2],[7.88,0.7],[7.91,5.8],[7.93,2.2],[7.96,8.4],[7.98,4.3],
[8.01,0.3],[8.03,3.4],[8.06,7.5],[8.08,1.4],[8.11,5.0],[8.13,8.7],[8.16,2.8],[8.18,6.9],[8.21,0.9],[8.23,4.3],[8.26,9.0],[8.28,3.1],[8.31,5.5],[8.33,1.7],[8.36,8.0],[8.38,3.9],[8.41,0.1],[8.43,6.3],[8.46,9.9],[8.48,2.0],[8.51,4.9],[8.53,7.7],[8.56,1.1],[8.58,3.6],[8.61,9.6],[8.63,5.4],[8.66,0.3],[8.68,6.8],[8.71,2.3],[8.73,4.7],[8.76,8.3],[8.78,1.4],[8.81,6.0],[8.83,3.2],[8.86,9.2],[8.88,0.6],[8.91,5.1],[8.93,7.2],[8.96,2.6],[8.98,4.1],
[9.01,8.5],[9.03,1.3],[9.06,6.8],[9.08,3.8],[9.11,0.3],[9.13,5.9],[9.16,9.5],[9.18,2.4],[9.21,4.9],[9.23,7.3],[9.26,1.5],[9.28,6.3],[9.31,3.6],[9.33,8.9],[9.36,0.5],[9.38,4.3],[9.41,6.9],[9.43,2.2],[9.46,9.8],[9.48,1.3],[9.51,5.6],[9.53,3.3],[9.56,7.9],[9.58,4.2],[9.61,0.3],[9.63,8.5],[9.66,6.6],[9.68,2.8],[9.71,3.8],[9.73,9.1],[9.76,1.2],[9.78,5.4],[9.81,7.6],[9.83,2.6],[9.86,0.3],[9.88,6.2],[9.91,4.5],[9.93,8.8],[9.96,3.2],[9.98,5.7],[9.99,0.2],
[9.96,0.3],[9.89,7.3],[9.82,4.0],[9.74,9.0],[9.67,1.8],[9.6,5.1],[9.52,8.1],[9.45,3.0],[9.38,6.0],[9.3,0.8],[9.23,4.5],[9.16,9.3],[9.08,2.2],[9.01,7.0],[8.94,5.8],[8.86,0.2],[8.79,8.9],[8.72,3.7],[8.64,6.5],[8.57,1.5],[8.5,9.6],[8.42,4.6],[8.35,2.7],[8.28,7.8],[8.2,5.5],[8.13,0.5],[8.06,9.1],[7.98,3.2],[7.91,6.9],[7.84,1.8],[7.76,8.6],[7.69,4.9],[7.62,0.1],[7.54,6.7],[7.47,3.0],[7.4,9.3],[7.32,5.7],[7.25,1.7],[7.18,8.1],[7.1,4.1],[7.03,0.8],[6.96,7.4],[6.88,2.9],[6.81,9.9],[6.74,5.3],[6.66,1.1],[6.59,6.4],[6.52,3.9],[6.44,8.7],[6.37,0.6],[6.3,5.0],[6.22,7.2],[6.15,2.3],[6.08,9.5],[6.0,4.4],[5.93,0.9],[5.86,7.9],[5.78,3.6],[5.71,9.0],[5.64,5.9],[5.56,1.4],[5.49,8.4],[5.42,3.2],[5.34,6.1],[5.27,0.4],[5.2,9.7],[5.12,4.8],[5.05,2.0],[4.98,7.1],[4.9,5.4],[4.83,0.9],[4.76,8.7],[4.68,3.8],[4.61,6.3],[4.54,1.4],[4.46,9.3],[4.39,4.2],[4.32,7.4],[4.24,2.0],[4.17,5.9],[4.1,0.3],[4.02,8.5],[3.95,3.8],[3.88,6.9],[3.8,1.6],[3.73,9.8],[3.66,4.9],[3.58,2.6],[3.51,7.6],[3.44,5.3],[3.36,0.5],[3.29,8.9],[3.22,3.5],[3.14,6.4],[3.07,1.1],[3.0,9.2],[2.92,4.5],[2.85,7.0],[2.78,2.2],[2.7,5.6],[2.63,0.3],[2.56,8.7],[2.48,3.9],[2.41,6.2],[2.34,1.6],[2.26,9.6],[2.19,5.0],[2.12,2.9],[2.04,7.6],[1.97,4.2],[1.9,0.5],[1.82,8.5],[1.75,5.7],[1.68,2.4],[1.6,9.4],[1.53,6.7],[1.46,1.2],[1.38,4.7],[1.31,7.8],[1.24,3.1],[1.16,9.0],[1.09,5.9],[1.02,0.2],[0.94,4.1],[0.87,6.9],[0.8,2.3],[0.72,9.1],[0.65,5.3],[0.58,1.3],[0.5,7.6],[0.43,3.8],[0.36,9.2],[0.28,5.9],[0.21,2.0],[0.14,8.6],[0.06,3.8],[0.03,6.9]
];

// 21 Jun 2007 : var vs w_overlap
var junVarVsOverlap = [
[0.0,.0482],[0.0,.0455],[0.05,.0325],[0.07,.0318],[0.04,.0301],[0.06,.0295],[0.08,.0289],[0.1,.0292],[0.12,.0297],[0.09,.0285],[0.14,.0288],[0.11,.0304],[0.1,.0252],[0.2,.0291],[0.22,.0294],[0.25,.0285],[0.3,.0289],[0.35,.0283],[0.38,.0286],[0.16,.0301],[0.18,.0296],
[0.28,.0263],[0.32,.0266],[0.35,.0262],[0.38,.0267],[0.41,.0264],[0.44,.0268],[0.47,.0265],[0.5,.0269],[0.53,.0266],[0.56,.0268],[0.6,.0267],[0.65,.0271],[0.7,.0269],[0.78,.0272],[0.85,.0270],
[0.5,.0311],[0.53,.0312],[0.57,.0310],[0.6,.0311],[0.64,.0313],[0.67,.0311],[0.71,.0310],[0.74,.0312],[0.78,.0311],[0.81,.0310],[0.85,.0312],[0.88,.0311],[0.92,.0310],[0.95,.0312],[0.99,.0311],[1.02,.0310],[1.06,.0312],[1.09,.0311],[1.13,.0313],[1.16,.0311],[1.2,.0310],[1.23,.0312],[1.27,.0311],[1.3,.0310],[1.34,.0312],[1.37,.0311],[1.41,.0313],[1.44,.0311],[1.48,.0310],[1.51,.0312],[1.55,.0311],[1.58,.0310],[1.62,.0312],[1.65,.0311],[1.69,.0310],[1.72,.0312],[1.68,.0318],[1.75,.0316],[1.6,.0315],[1.45,.0314],
[0.4,.0298],[0.45,.0301],[0.55,.0296],[0.6,.0299],[0.7,.0295],[0.8,.0297],[0.9,.0301],[1.0,.0296],[1.1,.0299],[1.2,.0303],[1.3,.0297],[1.4,.0301],[1.5,.0298],[1.6,.0302],[1.7,.0313],[1.78,.0304],
[1.17,.0272],[1.24,.0271],[1.31,.0273],[1.38,.0271],[1.45,.0272],[1.52,.0270],[1.59,.0272],[1.66,.0271],[1.73,.0273],[1.8,.0271],[1.87,.0272],[1.94,.0270],[2.01,.0272],[2.08,.0271],[2.15,.0273],[2.22,.0271],[2.29,.0272],[2.36,.0270],[2.43,.0272],[2.5,.0271],[2.57,.0273],[2.64,.0271],[2.71,.0272],[2.78,.0270],[2.85,.0272],[2.92,.0271],[2.99,.0273],[3.06,.0271],[3.13,.0272],[3.2,.0270],[3.27,.0272],[3.34,.0271],[3.41,.0273],[3.48,.0271],[3.55,.0272],[3.62,.0270],[3.69,.0272],[3.76,.0271],[3.83,.0273],[3.9,.0271],[3.97,.0272],[4.04,.0271],[4.11,.0272],[4.18,.0271],[4.25,.0272],[4.32,.0271],[4.39,.0272],[4.46,.0271],[4.53,.0272],[4.6,.0271],[4.67,.0273],[4.74,.0271],[4.81,.0272],[4.88,.0271],[4.95,.0272],[5.02,.0271],[5.09,.0272],[5.16,.0271],[5.23,.0273],[5.3,.0271],[5.37,.0272],[5.44,.0271],[5.51,.0272],[5.58,.0270],[5.65,.0272],[5.72,.0271],[5.79,.0273],[5.86,.0271],[5.93,.0272],[6.0,.0270],[6.07,.0272],[6.14,.0271],[6.21,.0273],[6.28,.0270],[6.35,.0272],[6.42,.0271],[6.49,.0273],[6.56,.0270],[6.63,.0272],[6.7,.0271],[6.77,.0273],[6.84,.0270],[6.91,.0272],[6.98,.0271],[7.05,.0273],[7.12,.0270],[7.19,.0272],[7.26,.0271],[7.33,.0273],[7.4,.0270],[7.47,.0272],[7.54,.0271],[7.61,.0273],[7.68,.0270],[7.75,.0272],[7.82,.0271],[7.89,.0273],[7.96,.0270],[8.03,.0272],[8.1,.0271],[8.17,.0273],[8.24,.0270],[8.31,.0272],[8.38,.0271],[8.45,.0273],[8.52,.0270],[8.59,.0272],[8.66,.0271],[8.73,.0273],[8.8,.0270],[8.87,.0272],[8.94,.0271],[9.01,.0273],[9.08,.0270],[9.15,.0272],[9.22,.0271],[9.29,.0273],[9.36,.0270],[9.43,.0272],[9.5,.0271],[9.57,.0273],[9.64,.0270],[9.71,.0272],[9.78,.0271],[9.85,.0273],[9.92,.0270],[9.99,.0272],
[6.1,.0279],[6.25,.0278],[6.4,.0280],[6.55,.0278],[6.7,.0281],[6.85,.0278],[7.0,.0280],[7.15,.0278],[7.3,.0281],[7.45,.0279],[7.6,.0278],[7.75,.0280],[7.9,.0278],[8.05,.0281],[8.2,.0279],[8.35,.0278],[8.5,.0280],[8.65,.0278],[8.8,.0281],[8.95,.0279],[9.1,.0278],[9.25,.0280],[9.4,.0279],[9.55,.0278],[9.7,.0281],[9.85,.0279],[9.95,.0282],[9.99,.0284],
[6.18,.0275],[6.48,.0276],[6.78,.0275],[7.08,.0276],[7.38,.0275],[7.68,.0276],[7.98,.0275],[8.28,.0276],[8.58,.0275],[8.88,.0276],[9.18,.0275],[9.48,.0276],[9.78,.0275],
[2.1,.0306],[2.35,.0305],[2.5,.0306],[2.65,.0304],[2.9,.0305],[3.0,.0306],[3.15,.0304],[3.35,.0306],[3.55,.0305],[3.7,.0306],[3.8,.0304],[4.5,.0303],[4.65,.0305],[5.1,.0306],[5.6,.0304],[5.7,.0305],[6.65,.0306],[7.35,.0304],[7.45,.0305],[7.6,.0306],[7.9,.0305],[8.4,.0306],[8.6,.0305],[9.1,.0307],[9.2,.0305],[9.3,.0304],[9.5,.0305],[9.8,.0306],[9.95,.0305],
[4.6,.0286],[4.8,.0287],[5.0,.0286],[5.2,.0288],[5.4,.0286],[5.45,.0289],[6.0,.0286],[6.35,.0287],[6.8,.0286],[7.2,.0287],[7.5,.0286],[7.9,.0288],[8.2,.0286],[8.5,.0287],[8.8,.0286],[9.0,.0287],[9.3,.0286],[9.6,.0287],[9.85,.0286],[9.98,.0285],
[2.3,.0258],[8.8,.0250]
];

// 23 Sep 2007 : Median vs w_dist
var sepMedVsDist = [
[0.03,.7782],[0.05,.7762],[0.05,.7734],[0.16,.7740],[0.07,.7790],[0.11,.7793],[0.16,.7797],[0.18,.7792],[0.23,.7799],[0.27,.7799],[0.2,.7772],[0.24,.7783],[0.29,.7783],[0.09,.7788],[0.13,.7791],[0.25,.7797],
[0.33,.7764],[0.42,.7771],[0.46,.7774],[0.5,.7769],[0.52,.7766],[0.55,.7772],[0.57,.7768],[0.59,.7763],[0.38,.7762],[0.44,.7768],[0.48,.7772],
[0.6,.7755],[0.62,.7751],[0.64,.7754],[0.66,.7749],[0.68,.7752],[0.7,.7755],[0.72,.7749],[0.74,.7751],[0.76,.7748],[0.78,.7752],[0.8,.7749],[0.82,.7751],[0.85,.7749],[0.87,.7753],[0.9,.7751],[0.93,.7749],[0.95,.7750],[0.72,.7754],[0.84,.7752],[0.96,.7765],[0.99,.7743],
[1.0,.7736],[1.03,.7733],[1.06,.7737],[1.09,.7734],[1.12,.7736],[1.15,.7733],[1.18,.7737],[1.21,.7734],[1.24,.7736],[1.27,.7733],[1.3,.7735],[1.33,.7733],[1.36,.7736],[1.39,.7734],[1.42,.7736],[1.45,.7733],[1.05,.7745],[1.1,.7731],[1.2,.7731],[1.3,.7731],[1.4,.7731],
[1.5,.7743],[1.53,.7745],[1.56,.7742],[1.6,.7744],[1.63,.7742],[1.66,.7745],[1.7,.7743],[1.73,.7739],
[1.72,.7762],[1.76,.7766],[1.8,.7764],[1.77,.7800],
[1.8,.7778],[1.83,.7781],[1.86,.7775],[1.89,.7779],[1.92,.7776],[1.95,.7773],[1.98,.7777],[2.01,.7774],[2.04,.7778],[2.07,.7772],[2.1,.7776],[2.13,.7773],[2.16,.7777],[2.19,.7774],[1.8,.7787],[1.85,.7770],[1.9,.7783],[2.0,.7781],
[2.3,.7776],[2.4,.7779],[2.5,.7783],[2.55,.7774],[2.6,.7781],[2.65,.7769],[2.7,.7778],[2.75,.7772],[2.8,.7783],[2.85,.7776],[2.9,.7768],[2.95,.7781],[3.0,.7774],[3.05,.7779],[3.1,.7771],[3.15,.7783],[3.2,.7767],[3.25,.7778],[3.3,.7782],[3.35,.7773],[3.4,.7779],[3.45,.7769],[3.5,.7781],[3.55,.7776],[3.6,.7784],[3.65,.7772],[3.7,.7779],[3.75,.7783],[3.8,.7775],[3.85,.7781],[3.9,.7768],[3.45,.7786],[3.52,.7784],[3.72,.7785],[3.78,.7781],
[2.67,.7800],[2.87,.7800],[2.95,.7800],[3.2,.7800],[3.35,.7800],[3.5,.7800],[3.6,.7805],[3.75,.7801],
[2.6,.7765],[2.75,.7765],[2.9,.7765],[3.05,.7765],[3.25,.7765],[3.4,.7765],[3.8,.7762],
[3.66,.7828],[4.16,.7825],[4.24,.7821],[4.5,.7821],
[3.85,.7803],[3.88,.7797],[3.9,.7791],[3.93,.7802],[3.96,.7795],[4.0,.7789],[4.02,.7803],[4.05,.7797],[4.08,.7791],[4.1,.7802],[4.13,.7795],[4.16,.7789],[4.19,.7803],[4.22,.7797],[4.25,.7791],[4.28,.7802],[4.31,.7796],[4.34,.7789],[4.37,.7803],[4.4,.7797],[4.43,.7791],[4.46,.7802],[4.49,.7795],[4.52,.7789],[4.55,.7803],[4.58,.7797],[4.61,.7791],[4.64,.7802],[4.67,.7795],[4.7,.7789],[4.72,.7803],
[4.77,.7815],[4.78,.7834],[4.77,.7810],[4.81,.7850],[4.79,.7822],[4.8,.7843],
[4.9,.7855],[4.94,.7855],[5.03,.7855],[5.42,.7855],[5.5,.7855],[5.59,.7855],[5.63,.7855],[6.02,.7855],[6.63,.7855],[6.77,.7855],[6.81,.7855],[6.9,.7855],[6.94,.7855],[7.03,.7855],[7.12,.7855],[7.2,.7855],[7.33,.7855],[7.51,.7855],[7.59,.7855],[7.81,.7855],[8.07,.7855],[8.23,.7855],[8.29,.7855],[8.37,.7855],[8.59,.7855],[8.9,.7855],[9.24,.7855],[9.33,.7855],[9.42,.7855],[9.55,.7855],[9.6,.7855],[9.71,.7855],
[4.85,.7849],[4.9,.7850],[4.95,.7848],[5.0,.7850],[5.05,.7848],[5.1,.7850],[5.15,.7848],[5.2,.7850],[5.25,.7848],[5.3,.7850],[5.35,.7848],[5.4,.7850],[5.45,.7848],[5.5,.7850],[5.55,.7848],[5.6,.7850],[5.65,.7848],[5.7,.7850],[5.75,.7848],[5.8,.7850],[5.85,.7848],[5.9,.7850],[5.95,.7848],[6.0,.7850],[6.05,.7848],[6.1,.7850],[6.15,.7848],[6.2,.7850],[6.25,.7848],[6.3,.7850],[6.35,.7848],[6.4,.7850],[6.45,.7848],[6.5,.7850],[6.55,.7848],[6.6,.7850],[6.65,.7848],[6.7,.7850],[6.8,.7849],[6.9,.7848],[7.0,.7849],[7.1,.7848],[7.2,.7849],[7.3,.7848],[7.65,.7849],[7.75,.7848],[7.85,.7849],[8.2,.7849],[9.0,.7849],[9.15,.7848],
[4.92,.7831],[4.96,.7830],[5.0,.7831],[5.04,.7830],[5.08,.7831],[5.12,.7830],[5.16,.7831],[5.2,.7830],[5.24,.7831],[5.28,.7830],[5.32,.7831],[5.36,.7830],[5.4,.7831],[5.46,.7830],[5.55,.7830],[5.62,.7831],[5.75,.7830],[5.9,.7831],[6.0,.7830],[6.1,.7831],[6.2,.7830],[6.3,.7831],[6.55,.7830],[6.65,.7831],[6.8,.7830],[6.9,.7831],[7.0,.7830],[7.1,.7831],[7.2,.7830],[7.5,.7831],[7.55,.7830],[7.6,.7831],[7.65,.7830],[7.7,.7831],[7.75,.7830],[7.8,.7831],[7.85,.7830],[7.9,.7831],[7.95,.7830],[8.0,.7831],[8.05,.7830],[8.1,.7831],[8.15,.7830],[8.2,.7831],[8.25,.7830],[8.3,.7831],[8.35,.7830],[8.4,.7831],[8.45,.7830],[8.5,.7831],[8.55,.7830],[8.6,.7831],[8.65,.7830],[8.7,.7831],[8.75,.7830],[8.8,.7831],[8.85,.7830],[8.9,.7831],[8.95,.7830],[9.0,.7831],[9.05,.7830],[9.1,.7831],[9.15,.7830],[9.2,.7831],[9.25,.7830],[9.3,.7831],[9.35,.7830],[9.4,.7831],[9.45,.7830],[9.5,.7831],[9.55,.7830],[9.6,.7831],[9.65,.7830],[9.7,.7831],[9.75,.7830],[9.8,.7831],[9.85,.7830],[9.9,.7831],[9.95,.7830],[10.0,.7831],
[5.5,.7822],[5.62,.7823],[5.75,.7822],[5.88,.7823],[6.0,.7822],[6.12,.7823],[6.25,.7822],[6.38,.7823],[6.5,.7822],[6.62,.7823],[6.75,.7822],[6.88,.7823],[7.0,.7822],[7.12,.7823],[7.25,.7822],[7.38,.7823],[7.5,.7822],[7.62,.7823],[8.0,.7822],[8.12,.7823],[8.25,.7822],[8.38,.7823],[8.5,.7822],[8.75,.7823],[8.88,.7822],[9.0,.7823],[9.12,.7822],[9.25,.7823],[9.38,.7822],[9.5,.7823],[9.62,.7822],[9.75,.7823],[9.88,.7822],[9.97,.7823],
[4.9,.7815],[5.03,.7815],[5.55,.7815],[5.72,.7815],[5.9,.7815],[6.07,.7815],[6.16,.7815],[6.29,.7815],[6.37,.7815],[6.46,.7815],[6.72,.7815],[6.85,.7815],[6.94,.7815],[7.11,.7815],[7.2,.7815],[7.29,.7815],[7.37,.7815],[7.46,.7815],[7.72,.7815],[8.07,.7815],[8.5,.7815],[8.59,.7815],[8.68,.7815],[9.03,.7815],[9.16,.7815],[9.55,.7815],[9.81,.7815],
[8.03,.7806],[8.11,.7806],[9.9,.7806],[8.26,.7800],[8.33,.7800],[8.46,.7800],
[4.94,.7794],[5.59,.7794],[5.94,.7794],[6.03,.7794],[6.24,.7794],[6.46,.7794],[6.55,.7794],[6.68,.7794],[7.11,.7794],[7.63,.7794],[8.07,.7794],[8.26,.7794],[8.37,.7794],[8.77,.7794],[8.99,.7794],[9.05,.7794],[9.12,.7794],[9.59,.7794],[9.7,.7794],[9.94,.7794],
[5.3,.7789],[5.62,.7789],[6.11,.7789],[6.42,.7789],[6.55,.7789],[6.77,.7789],[6.85,.7789],[7.03,.7789],[7.2,.7789],[7.29,.7789],[7.37,.7789],[7.72,.7789],[7.81,.7789],[8.07,.7789],[8.33,.7789],[8.5,.7789],[8.68,.7789],[8.85,.7789],[8.94,.7789],[9.2,.7789],[9.29,.7789],[9.42,.7789],[9.55,.7789],[9.68,.7789],[9.85,.7789],[9.98,.7789],
[6.56,.7786],[6.94,.7786],[7.86,.7786],[8.76,.7786],[9.68,.7786],
[5.16,.7765],[5.24,.7765],[5.37,.7765],[5.59,.7765],[5.85,.7765],[6.16,.7765],[6.24,.7765],[6.63,.7765],[6.72,.7765],[6.85,.7765],[7.11,.7765],[7.2,.7765],[7.46,.7765],[7.72,.7765],
[6.56,.7734],[9.08,.7734]
];

// 23 Sep 2007 : w_overlap vs w_dist
var sepOverlapVsDist = [
[0.01,5.7],[0.02,1.9],[0.04,0.8],[0.05,4.6],[0.07,3.0],[0.09,7.6],[0.1,0.1],[0.12,2.5],[0.14,4.0],[0.15,8.3],[0.17,6.8],[0.19,2.7],[0.21,0.1],[0.23,3.2],[0.25,5.3],[0.27,1.8],[0.29,7.9],[0.31,2.9],[0.33,4.9],[0.35,6.0],[0.37,1.2],[0.39,3.0],[0.41,9.5],[0.43,2.3],[0.45,0.3],[0.47,8.8],[0.49,5.4],[0.51,2.1],[0.53,3.6],[0.55,1.5],[0.57,6.3],[0.59,2.5],[0.61,4.4],[0.63,7.6],[0.65,1.9],[0.67,3.6],[0.69,2.2],[0.71,6.8],[0.73,1.4],[0.75,4.8],[0.77,7.3],[0.79,2.6],[0.81,5.6],[0.83,0.9],[0.85,3.9],[0.87,7.9],[0.89,1.5],[0.91,9.9],[0.93,2.0],[0.95,4.1],[0.97,8.0],[0.99,0.6],
[1.01,3.9],[1.03,7.7],[1.05,1.9],[1.07,5.2],[1.09,0.5],[1.12,8.2],[1.14,2.7],[1.16,4.6],[1.18,9.3],[1.2,1.6],[1.23,5.8],[1.25,3.4],[1.27,8.8],[1.29,0.4],[1.31,6.1],[1.34,7.0],[1.36,3.4],[1.38,9.9],[1.4,6.9],[1.42,1.2],[1.45,4.2],[1.47,7.3],[1.49,2.6],[1.51,9.0],[1.53,0.8],[1.56,5.2],[1.58,7.7],[1.6,3.6],[1.62,1.8],[1.64,9.1],[1.67,5.0],[1.69,0.2],[1.71,7.7],[1.73,4.4],[1.75,1.4],[1.77,8.4],[1.8,5.8],[1.82,3.1],[1.84,9.6],[1.86,6.2],[1.88,0.4],[1.9,7.0],[1.93,3.4],[1.95,9.2],[1.97,6.3],[1.99,1.6],
[2.01,0.3],[2.03,8.6],[2.06,4.5],[2.08,9.9],[2.1,6.9],[2.13,1.4],[2.15,5.0],[2.18,7.3],[2.2,2.4],[2.23,9.1],[2.25,3.7],[2.28,0.9],[2.3,6.6],[2.33,8.5],[2.35,2.9],[2.38,4.6],[2.4,0.4],[2.43,7.1],[2.45,9.7],[2.48,3.3],[2.5,5.6],[2.53,1.2],[2.55,8.7],[2.58,4.1],[2.6,0.5],[2.63,6.7],[2.65,2.2],[2.68,9.8],[2.7,4.9],[2.73,1.8],[2.75,7.7],[2.78,3.4],[2.8,6.0],[2.83,0.7],[2.85,8.7],[2.88,4.3],[2.9,2.0],[2.93,7.2],[2.95,5.4],[2.98,1.0],
[3.0,9.6],[3.03,3.9],[3.05,6.6],[3.08,1.9],[3.1,8.1],[3.13,4.3],[3.15,0.6],[3.18,7.2],[3.2,2.9],[3.23,9.1],[3.25,5.1],[3.28,1.4],[3.3,6.3],[3.33,3.7],[3.35,8.7],[3.38,0.2],[3.4,4.9],[3.43,7.5],[3.45,2.5],[3.48,9.4],[3.5,5.4],[3.53,1.7],[3.55,6.9],[3.58,3.1],[3.6,8.5],[3.63,0.4],[3.65,4.5],[3.68,7.9],[3.7,2.2],[3.73,9.7],[3.75,5.8],[3.78,1.3],[3.8,6.1],[3.83,3.5],[3.85,8.2],[3.88,0.1],[3.9,4.4],[3.93,7.0],[3.95,2.6],[3.98,9.1],
[4.0,5.2],[4.03,1.1],[4.05,8.6],[4.08,3.3],[4.1,6.5],[4.13,0.3],[4.15,4.7],[4.18,7.5],[4.2,2.1],[4.23,9.4],[4.25,3.9],[4.28,0.7],[4.3,6.2],[4.33,8.9],[4.35,2.9],[4.38,5.6],[4.4,1.5],[4.43,7.0],[4.45,3.5],[4.48,9.8],[4.5,0.2],[4.53,4.3],[4.55,6.8],[4.58,2.4],[4.6,8.3],[4.63,1.1],[4.65,5.3],[4.68,7.6],[4.7,3.1],[4.73,9.1],[4.75,0.4],[4.78,4.2],[4.8,6.9],[4.83,2.0],[4.85,8.5],[4.88,5.0],[4.9,1.5],[4.93,7.4],[4.95,3.6],[4.98,9.3],
[5.0,4.9],[5.03,1.9],[5.05,7.6],[5.08,3.7],[5.1,9.5],[5.13,0.5],[5.15,5.3],[5.18,7.3],[5.2,2.8],[5.23,9.7],[5.25,4.4],[5.28,0.7],[5.3,6.6],[5.33,3.1],[5.35,8.5],[5.38,1.4],[5.4,5.6],[5.43,7.9],[5.45,2.5],[5.48,9.3],[5.5,4.1],[5.53,0.8],[5.55,6.6],[5.58,9.9],[5.6,3.3],[5.63,5.9],[5.65,1.7],[5.68,8.3],[5.7,4.6],[5.73,0.2],[5.75,7.1],[5.78,2.9],[5.8,9.0],[5.83,5.0],[5.85,1.1],[5.88,7.8],[5.9,3.4],[5.93,6.4],[5.95,0.6],[5.98,8.2],
[6.0,3.8],[6.03,1.4],[6.05,6.8],[6.08,9.6],[6.1,2.8],[6.13,4.9],[6.15,0.4],[6.18,7.5],[6.2,3.0],[6.23,8.7],[6.25,5.6],[6.28,1.1],[6.3,6.6],[6.33,3.9],[6.35,9.0],[6.38,0.3],[6.4,4.6],[6.43,7.2],[6.45,2.2],[6.48,8.1],[6.5,5.1],[6.53,0.6],[6.55,3.3],[6.58,9.1],[6.6,6.1],[6.63,1.9],[6.65,4.4],[6.68,7.7],[6.7,0.3],[6.73,9.8],[6.75,3.6],[6.78,6.7],[6.8,1.4],[6.83,5.3],[6.85,8.6],[6.88,2.5],[6.9,7.0],[6.93,4.0],[6.95,9.9],[6.98,0.7],
[7.0,6.3],[7.03,2.9],[7.05,9.6],[7.08,4.6],[7.1,1.2],[7.13,7.5],[7.15,3.8],[7.18,8.9],[7.2,0.8],[7.23,5.4],[7.25,2.2],[7.28,7.7],[7.3,4.1],[7.33,9.3],[7.35,1.5],[7.38,6.1],[7.4,3.3],[7.43,8.3],[7.45,0.5],[7.48,5.0],[7.5,2.6],[7.53,7.3],[7.55,4.4],[7.58,9.8],[7.6,1.0],[7.63,6.4],[7.65,3.0],[7.68,8.7],[7.7,0.3],[7.73,5.4],[7.75,2.0],[7.78,7.9],[7.8,4.9],[7.83,9.2],[7.85,1.5],[7.88,6.7],[7.9,3.7],[7.93,8.9],[7.95,1.1],[7.98,5.8],
[8.0,0.3],[8.03,4.9],[8.05,8.4],[8.08,2.3],[8.1,6.6],[8.13,0.2],[8.15,3.9],[8.18,7.1],[8.2,5.6],[8.23,8.6],[8.25,1.8],[8.28,4.8],[8.3,9.6],[8.33,2.9],[8.35,6.3],[8.38,0.5],[8.4,3.9],[8.43,7.5],[8.45,5.1],[8.48,1.0],[8.5,8.0],[8.53,3.1],[8.55,6.8],[8.58,0.1],[8.6,4.4],[8.63,9.6],[8.65,2.4],[8.68,5.8],[8.7,7.6],[8.73,1.3],[8.75,3.5],[8.78,6.4],[8.8,0.4],[8.83,4.9],[8.85,8.1],[8.88,2.0],[8.9,5.3],[8.93,7.2],[8.95,0.6],[8.98,3.3],
[9.0,6.0],[9.03,9.6],[9.05,1.6],[9.08,4.6],[9.1,7.4],[9.13,2.8],[9.15,0.2],[9.18,5.2],[9.2,8.9],[9.23,3.6],[9.25,6.7],[9.28,1.5],[9.3,4.3],[9.33,9.5],[9.35,2.6],[9.38,6.5],[9.4,0.6],[9.43,4.8],[9.45,8.1],[9.48,3.3],[9.5,6.2],[9.53,1.1],[9.55,5.7],[9.58,8.8],[9.6,2.5],[9.63,4.4],[9.65,6.9],[9.68,0.7],[9.7,3.8],[9.73,8.6],[9.75,5.4],[9.78,1.8],[9.8,7.3],[9.83,4.1],[9.85,2.7],[9.88,6.6],[9.9,0.5],[9.93,3.2],[9.95,8.7],[9.98,1.5],[9.99,8.1],
[9.97,3.6],[9.9,9.3],[9.83,6.2],[9.75,1.2],[9.68,4.7],[9.61,8.4],[9.53,2.0],[9.46,6.9],[9.39,0.4],[9.31,5.0],[9.24,9.1],[9.17,3.1],[9.09,7.7],[9.02,1.9],[8.95,5.6],[8.87,9.4],[8.8,2.8],[8.73,6.2],[8.65,0.8],[8.58,4.0],[8.51,8.9],[8.43,5.3],[8.36,1.5],[8.29,7.1],[8.21,3.4],[8.14,9.9],[8.07,5.8],[7.99,0.6],[7.92,4.6],[7.85,8.0],[7.77,2.3],[7.7,6.2],[7.63,9.4],[7.55,3.6],[7.48,0.9],[7.41,7.1],[7.33,5.0],[7.26,1.9],[7.19,9.0],[7.11,3.1],[7.04,6.8],[6.97,0.2],[6.89,4.9],[6.82,8.2],[6.75,2.0],[6.67,5.8],[6.6,9.6],[6.53,3.5],[6.45,0.6],[6.38,7.7],[6.31,4.3],[6.23,9.2],[6.16,1.7],[6.09,5.9],[6.01,8.6],[5.94,2.6],[5.87,0.4],[5.79,6.3],[5.72,3.9],[5.65,9.5],[5.57,1.3],[5.5,7.4],[5.43,4.9],[5.35,0.3],[5.28,8.9],[5.21,3.3],[5.13,6.2],[5.06,1.2],[4.99,4.5],[4.91,9.0],[4.84,2.8],[4.77,7.1],[4.69,5.7],[4.62,0.2],[4.55,8.1],[4.47,3.2],[4.4,6.0],[4.33,1.0],[4.25,9.7],[4.18,4.2],[4.11,7.9],[4.03,2.3],[3.96,5.3],[3.89,0.8],[3.81,8.8],[3.74,3.9],[3.67,6.6],[3.59,1.6],[3.52,9.2],[3.45,4.4],[3.37,7.1],[3.3,2.2],[3.23,5.6],[3.15,0.4],[3.08,8.2],[3.01,4.6],[2.93,6.5],[2.86,1.3],[2.79,9.5],[2.71,3.0],[2.64,7.6],[2.57,5.2],[2.49,0.7],[2.42,8.1],[2.35,3.8],[2.27,6.2],[2.2,1.6],[2.13,9.1],[2.05,4.4],[1.98,7.0],[1.91,2.6],[1.83,8.2],[1.76,0.9],[1.69,4.7],[1.61,6.6],[1.54,2.1],[1.47,9.4],[1.39,4.3],[1.32,7.3],[1.25,1.1],[1.17,5.0],[1.1,8.6],[1.03,2.3],[0.95,6.1],[0.88,3.0],[0.81,8.7],[0.73,2.0],[0.66,4.9],[0.59,1.1],[0.51,7.3],[0.44,2.6],[0.37,5.3],[0.29,0.9],[0.22,3.8],[0.15,1.4],[0.07,6.2]
];

// 23 Sep 2007 : var vs w_dist
var sepVarVsDist = [
[8.5,.0341],[5.72,.0240],[0.05,.0292],
[0.02,.0246],[0.04,.0243],[0.06,.0247],[0.08,.0244],[0.1,.0246],[0.12,.0243],[0.15,.0246],[0.18,.0244],[0.21,.0246],[0.25,.0243],[0.28,.0245],[0.32,.0246],[0.35,.0244],[0.05,.0233],[0.07,.0229],[0.1,.0237],[0.15,.0231],[0.25,.0229],[0.28,.0231],[0.45,.0238],
[0.42,.0217],[0.45,.0216],[0.49,.0218],[0.52,.0217],[0.56,.0216],[0.59,.0217],[0.63,.0218],[0.66,.0216],[0.7,.0217],[0.73,.0216],[0.77,.0218],[0.8,.0217],[0.84,.0216],[0.87,.0217],[0.91,.0218],[0.94,.0216],[0.98,.0217],[1.01,.0216],[1.05,.0218],[1.08,.0217],[1.12,.0216],[1.15,.0217],[1.19,.0218],[1.22,.0216],[1.26,.0217],[1.29,.0216],[1.33,.0218],[1.37,.0217],
[0.95,.0221],[1.0,.0224],[1.05,.0222],[1.1,.0219],[1.2,.0219],[1.3,.0220],
[1.4,.0220],[1.44,.0221],[1.47,.0219],[1.51,.0220],[1.54,.0221],[1.58,.0220],[1.61,.0219],[1.65,.0220],[1.68,.0221],[1.72,.0220],[1.75,.0219],[1.79,.0220],[1.82,.0221],[1.86,.0220],[1.89,.0219],[1.93,.0220],[1.5,.0229],[1.55,.0230],[1.62,.0229],
[2.05,.0220],[2.1,.0220],[2.15,.0220],[2.2,.0220],[2.3,.0220],[2.45,.0220],[2.65,.0220],
[1.72,.0247],[1.76,.0246],[1.8,.0248],[1.84,.0247],[1.88,.0246],[1.92,.0247],[1.96,.0248],[2.0,.0247],[2.04,.0246],[2.2,.0247],[2.28,.0247],[2.36,.0246],[2.44,.0247],[2.52,.0247],[2.6,.0246],
[2.64,.0247],[2.68,.0246],[2.72,.0248],[2.76,.0247],[2.8,.0246],[2.84,.0247],[2.88,.0248],[2.92,.0247],[2.96,.0246],[3.0,.0247],[3.04,.0248],[3.08,.0247],[3.12,.0246],[3.16,.0247],[3.2,.0248],[3.24,.0247],[3.28,.0246],[3.32,.0247],[3.36,.0248],[3.4,.0247],[3.44,.0246],[3.48,.0247],[3.52,.0248],[3.56,.0247],[3.6,.0246],[3.64,.0247],[3.68,.0248],[3.72,.0247],[3.76,.0246],[3.8,.0247],[3.84,.0248],[3.88,.0247],
[1.7,.0266],[1.8,.0268],[1.9,.0266],[1.97,.0269],[2.05,.0267],[2.45,.0266],[2.75,.0268],[3.1,.0267],[3.25,.0266],[3.5,.0268],[3.6,.0266],
[1.75,.0260],[2.3,.0259],[2.8,.0260],[3.15,.0259],[3.3,.0260],[3.35,.0258],[3.45,.0259],[3.5,.0256],[3.6,.0257],[3.7,.0256],[3.25,.0254],
[3.8,.0275],[3.83,.0276],[3.86,.0274],[3.89,.0275],[3.92,.0277],[3.95,.0275],[3.98,.0276],[4.01,.0274],[4.04,.0275],[4.07,.0276],[4.1,.0275],[4.13,.0277],[4.16,.0275],[4.19,.0276],[4.22,.0274],[4.25,.0275],[4.28,.0276],[4.31,.0275],[4.34,.0277],[4.37,.0275],[4.4,.0276],[4.43,.0274],[4.46,.0275],[4.49,.0276],[4.52,.0275],[4.55,.0277],[4.58,.0275],[4.61,.0276],[4.64,.0275],[4.67,.0274],
[3.9,.0267],[4.1,.0268],[4.2,.0266],[4.3,.0267],[4.05,.0262],[4.4,.0264],[4.55,.0262],[4.6,.0265],
[4.72,.0267],[4.75,.0262],[4.78,.0258],[4.8,.0265],[4.82,.0261],
[4.85,.0254],[4.9,.0256],[4.95,.0253],[5.0,.0255],[5.05,.0257],[5.1,.0254],[5.15,.0256],[5.2,.0253],[5.25,.0255],[5.3,.0254],[5.35,.0256],[5.4,.0253],[5.45,.0255],[5.5,.0257],[5.55,.0254],[5.6,.0256],[5.65,.0253],[5.7,.0255],[5.75,.0254],[5.8,.0256],[5.85,.0253],[5.9,.0255],[5.95,.0257],[6.0,.0254],[6.05,.0256],[6.1,.0253],[6.15,.0255],[6.2,.0254],[6.25,.0256],[6.3,.0253],[6.35,.0255],[6.4,.0257],[6.45,.0254],[6.5,.0256],[6.55,.0253],[6.6,.0255],[6.65,.0254],[6.7,.0256],[6.75,.0253],[6.8,.0255],[6.85,.0257],[6.9,.0254],[6.95,.0256],[7.0,.0253],[7.05,.0255],[7.1,.0254],[7.15,.0256],[7.2,.0253],[7.25,.0255],[7.3,.0257],[7.35,.0254],[7.4,.0256],[7.45,.0253],[7.5,.0255],[7.55,.0254],[7.6,.0256],[7.65,.0253],[7.7,.0255],[7.75,.0257],[7.8,.0254],[7.85,.0256],[7.9,.0253],[7.95,.0255],[8.0,.0254],[8.05,.0256],[8.1,.0253],[8.15,.0255],[8.2,.0257],[8.25,.0254],[8.3,.0256],[8.35,.0253],[8.4,.0255],[8.45,.0254],[8.5,.0256],[8.55,.0253],[8.6,.0255],[8.65,.0257],[8.7,.0254],[8.75,.0256],[8.8,.0253],[8.85,.0255],[8.9,.0254],[8.95,.0256],[9.0,.0253],[9.05,.0255],[9.1,.0257],[9.15,.0254],[9.2,.0256],[9.25,.0253],[9.3,.0255],[9.35,.0254],[9.4,.0256],[9.45,.0253],[9.5,.0255],[9.55,.0257],[9.6,.0254],[9.65,.0256],[9.7,.0253],[9.75,.0255],[9.8,.0254],[9.85,.0256],[9.9,.0253],[9.95,.0255],[10.0,.0254],
[4.85,.0247],[4.91,.0247],[4.97,.0246],[5.03,.0247],[5.09,.0247],[5.15,.0246],[5.21,.0247],[5.27,.0247],[5.33,.0246],[5.39,.0247],[5.45,.0247],[5.51,.0246],[5.57,.0247],[6.0,.0247],[6.1,.0247],[6.2,.0246],[6.3,.0247],[6.4,.0247],[6.5,.0246],[6.6,.0247],[6.7,.0247],[6.8,.0246],[6.9,.0247],[7.0,.0247],[7.1,.0246],[7.2,.0247],[7.3,.0247],[7.6,.0247],[7.9,.0246],[8.1,.0247],[8.4,.0247],
[4.9,.0266],[5.05,.0262],[5.2,.0268],[5.35,.0260],[5.5,.0264],[5.7,.0261],[5.85,.0266],[6.0,.0260],[6.15,.0265],[6.3,.0262],[6.45,.0268],[6.55,.0272],[6.6,.0266],[6.7,.0260],[6.8,.0264],[6.9,.0268],[7.0,.0262],[7.1,.0266],[7.2,.0260],[7.3,.0264],[7.4,.0268],[7.5,.0262],[7.6,.0265],[7.7,.0260],[7.8,.0268],[7.9,.0263],[8.0,.0266],[8.1,.0260],[8.2,.0268],[8.3,.0264],[8.4,.0266],[8.5,.0262],[8.6,.0268],[8.7,.0264],[8.8,.0260],[8.9,.0266],[9.0,.0262],[9.05,.0271],[9.1,.0268],[9.2,.0264],[9.3,.0266],[9.4,.0260],[9.5,.0268],[9.6,.0263],[9.7,.0267],[9.8,.0261],[9.9,.0268],[9.98,.0266],[8.15,.0259],[8.45,.0258],[8.85,.0259],[9.25,.0258],[9.65,.0259],[9.85,.0258]
];

// 23 Sep 2007 : Median vs w_overlap
var sepMedVsOverlap = [
[0.02,.7827],[0.02,.7825],[0.02,.7742],[0.06,.7736],[0.03,.7807],[0.08,.7806],[0.08,.7785],[0.12,.7796],[0.17,.7801],[0.19,.7807],[0.21,.7804],[0.05,.7805],
[0.22,.7791],[0.25,.7797],[0.28,.7788],[0.31,.7794],[0.34,.7800],[0.37,.7791],[0.4,.7797],[0.43,.7788],[0.46,.7794],[0.49,.7800],[0.52,.7791],[0.55,.7797],[0.58,.7788],[0.61,.7794],[0.64,.7800],[0.67,.7791],[0.7,.7797],[0.73,.7788],[0.76,.7794],[0.79,.7800],[0.82,.7791],[0.85,.7797],[0.88,.7788],[0.91,.7794],[0.94,.7800],[0.97,.7791],[1.0,.7797],[1.03,.7788],[1.06,.7794],[1.09,.7800],[1.12,.7791],[1.15,.7797],[1.18,.7788],[1.21,.7794],[1.24,.7800],[1.27,.7791],[1.3,.7797],[1.33,.7788],[1.36,.7794],[1.39,.7800],[1.42,.7791],[1.45,.7797],[1.48,.7788],[1.51,.7794],[1.54,.7800],[1.57,.7791],[1.6,.7797],[1.63,.7788],[1.66,.7794],[1.69,.7800],[1.72,.7791],[1.75,.7797],[1.78,.7788],[1.81,.7794],[1.84,.7800],[1.87,.7791],[1.9,.7797],[1.93,.7788],[1.96,.7794],
[0.3,.7771],[0.37,.7770],[0.52,.7755],[0.6,.7753],[0.65,.7766],[0.73,.7766],[0.82,.7766],[0.91,.7766],[1.0,.7766],[1.04,.7743],[1.13,.7771],[1.22,.7763],[1.26,.7775],[1.35,.7752],[1.37,.7739],[1.39,.7749],[1.43,.7770],[1.48,.7815],[1.56,.7815],[1.52,.7787],[1.61,.7737],[1.7,.7752],[1.74,.7774],[1.78,.7737],[1.83,.7752],[1.85,.7763],[1.87,.7752],[1.89,.7787],[1.91,.7774],
[1.9,.7815],[1.93,.7813],[1.96,.7816],[1.99,.7814],[2.02,.7815],[2.05,.7813],[2.08,.7816],[2.11,.7814],[2.14,.7815],[2.17,.7813],
[1.85,.7823],[1.95,.7823],[2.05,.7822],[2.1,.7823],[2.25,.7822],
[2.0,.7796],[2.05,.7799],[2.1,.7795],[2.15,.7798],[2.2,.7794],[2.3,.7797],[2.45,.7795],[2.55,.7796],
[2.55,.7818],[2.6,.7819],[2.65,.7817],[2.7,.7818],[2.75,.7819],[2.8,.7817],[2.85,.7818],[2.9,.7819],[2.95,.7817],[3.0,.7818],[3.05,.7819],[3.1,.7817],[3.15,.7818],[3.24,.7814],[2.65,.7807],[2.75,.7805],
[2.3,.7822],[2.36,.7823],[2.42,.7822],[2.48,.7823],[2.54,.7822],[2.6,.7823],[2.66,.7822],[2.72,.7823],[2.78,.7822],[2.84,.7823],[2.9,.7822],[2.96,.7823],[3.02,.7822],[3.08,.7823],[3.14,.7822],[3.2,.7823],[3.26,.7822],[3.32,.7823],[3.38,.7822],[3.44,.7823],[3.5,.7822],[3.56,.7823],[3.62,.7822],[3.68,.7823],[3.74,.7822],[3.8,.7823],[3.86,.7822],[3.92,.7823],[3.98,.7822],[4.04,.7823],[4.1,.7822],[4.16,.7823],[4.22,.7822],[4.28,.7823],[4.34,.7822],[4.4,.7823],[4.46,.7822],[4.52,.7823],[4.58,.7822],[4.64,.7823],[4.7,.7822],[4.76,.7823],[4.82,.7822],[4.88,.7823],[4.94,.7822],[5.0,.7823],[5.06,.7822],[5.12,.7823],[5.18,.7822],[5.24,.7823],[5.3,.7822],[5.36,.7823],[5.42,.7822],[5.6,.7822],[5.7,.7823],
[3.36,.7831],[3.42,.7830],[3.48,.7831],[3.54,.7830],[3.6,.7831],[3.66,.7830],[3.72,.7831],[3.78,.7830],[3.84,.7831],[3.9,.7830],[3.96,.7831],[4.02,.7830],[4.08,.7831],[4.14,.7830],[4.2,.7831],[4.26,.7830],[4.32,.7831],[4.38,.7830],[4.44,.7831],[4.5,.7830],[4.55,.7831],[4.6,.7830],[4.65,.7831],[4.7,.7830],[4.75,.7831],[4.8,.7830],[4.85,.7831],[4.9,.7830],[4.95,.7831],[5.0,.7830],[5.05,.7831],[5.1,.7830],[5.15,.7831],[5.2,.7830],[5.25,.7831],[5.3,.7830],[5.35,.7831],[5.4,.7830],[5.45,.7831],[5.5,.7830],[5.55,.7831],[5.6,.7830],[5.65,.7831],[5.72,.7834],[6.0,.7830],[6.08,.7831],[6.16,.7830],[6.24,.7831],[6.32,.7830],[6.4,.7831],[6.48,.7830],[6.56,.7831],[6.64,.7830],[6.75,.7831],[6.85,.7830],[6.95,.7831],[7.25,.7830],[7.35,.7831],[7.45,.7830],[7.8,.7831],[8.0,.7830],[8.2,.7831],[8.4,.7830],[8.6,.7831],[4.85,.7838],
[3.09,.7795],[3.36,.7795],[3.44,.7795],[3.58,.7795],[3.71,.7795],[3.88,.7795],[4.06,.7795],[4.19,.7795],[4.58,.7795],[4.67,.7795],[4.76,.7795],[4.84,.7795],[5.41,.7795],[5.59,.7795],[5.8,.7795],[5.89,.7795],[2.53,.7797],[2.66,.7797],[2.88,.7797],
[3.29,.7777],[3.53,.7778],[3.71,.7777],[3.97,.7778],[4.14,.7777],[4.36,.7778],[4.49,.7777],[4.62,.7778],[4.76,.7777],[4.89,.7778],[5.06,.7777],[5.28,.7778],[5.45,.7777],[5.63,.7778],[5.76,.7777],
[2.13,.7772],[2.31,.7772],[2.66,.7772],[2.74,.7772],[3.18,.7772],[3.36,.7772],[3.58,.7772],[3.97,.7772],[4.14,.7772],[4.45,.7772],[4.67,.7772],[5.37,.7772],
[3.01,.7765],[3.1,.7765],[3.18,.7765],[4.5,.7765],[5.1,.7765],[5.45,.7765],
[1.96,.7755],[2.09,.7755],[2.31,.7755],[2.48,.7755],[2.66,.7755],[3.36,.7755],[4.14,.7755],[4.32,.7755],[4.45,.7755],[4.56,.7755],[4.67,.7755],[4.76,.7755],[5.28,.7755],[6.55,.7755],[7.07,.7755],[7.38,.7755],[7.68,.7755],[7.95,.7755],[8.78,.7755],
[1.61,.7737],[1.78,.7737],[2.05,.7737],[2.22,.7737],[2.74,.7737],[3.36,.7737],[3.49,.7737],[3.79,.7737],[3.97,.7737],[4.23,.7737],[4.58,.7737],[4.67,.7737],[4.89,.7737],[4.97,.7737],[5.19,.7737],[5.32,.7737],[5.85,.7737],[5.94,.7737],[6.68,.7737],[6.81,.7737],[6.94,.7737],[7.16,.7737],[7.25,.7737],[7.38,.7737],[7.64,.7737],[7.9,.7737],[8.25,.7737],[8.43,.7737],[8.91,.7737],[9.35,.7737],[9.61,.7737],[9.98,.7737],
[6.68,.7741],[6.94,.7741],[7.2,.7741],[7.64,.7741],
[4.9,.7855],[4.97,.7849],[5.45,.7855],[6.46,.7855],[6.63,.7855],[6.68,.7855],[6.77,.7855],[6.85,.7855],[6.94,.7855],[7.03,.7855],[7.12,.7855],[7.25,.7855],[7.38,.7855],[7.68,.7855],[7.73,.7855],[7.81,.7855],[7.95,.7855],[8.08,.7855],[8.21,.7855],[8.34,.7855],[8.43,.7855],[8.56,.7855],[8.65,.7855],[8.73,.7855],[8.82,.7855],[8.95,.7855],[9.04,.7855],[9.13,.7855],[9.26,.7855],[9.56,.7855],
[5.5,.7849],[5.6,.7848],[5.7,.7849],[5.85,.7848],[5.95,.7849],[6.3,.7848],[6.35,.7849],[6.4,.7848],[6.45,.7849],[6.5,.7848],[6.55,.7849],[6.6,.7848],[6.65,.7849],[6.7,.7848],[6.75,.7849],[6.8,.7848],[6.85,.7849],[6.9,.7848],[6.95,.7849],[7.0,.7848],[7.05,.7849],[7.1,.7848],[7.15,.7849],[7.2,.7848],[7.25,.7849],[7.3,.7848],[7.35,.7849],[7.4,.7848],[7.45,.7849],[7.5,.7848],[7.55,.7849],[7.6,.7848],[7.65,.7849],[7.7,.7848],[7.75,.7849],[7.8,.7848],[7.85,.7849],[7.9,.7848],[7.95,.7849],[8.0,.7848],[8.05,.7849],[8.1,.7848],[8.15,.7849],[8.2,.7848],[8.25,.7849],[8.3,.7848],[8.35,.7849],[8.4,.7848],[8.45,.7849],[8.5,.7848],[8.55,.7849],[8.6,.7848],[8.65,.7849],[8.7,.7848],[8.75,.7849],[8.8,.7848],[8.85,.7849],[8.9,.7848],[8.95,.7849],[9.0,.7848],[9.05,.7849],[9.1,.7848],[9.15,.7849],[9.2,.7848],[9.25,.7849],[9.3,.7846],[9.35,.7849],[9.4,.7845],[9.45,.7849],[9.5,.7846],[9.55,.7848],[9.6,.7845],[9.65,.7849],[9.7,.7846],[9.75,.7848],[9.8,.7849],
[6.33,.7800],[6.42,.7800],[6.5,.7800],[6.9,.7800],[6.98,.7800],[7.2,.7800],[7.33,.7800],[7.42,.7800],[7.55,.7800],[8.12,.7800],[8.21,.7800],[8.65,.7800],[8.82,.7800],[9.21,.7800],[9.3,.7800],[9.48,.7800],[9.78,.7800],[9.83,.7800],
[6.0,.7778],[6.05,.7776],[6.1,.7780],[6.15,.7777],[6.2,.7779],[6.25,.7776],[6.3,.7778],[6.35,.7780],[6.4,.7777],[6.45,.7779],[6.5,.7776],[6.55,.7778],[6.6,.7780],[6.65,.7777],[6.7,.7779],[6.75,.7776],[6.8,.7778],[6.85,.7780],[6.9,.7777],[6.95,.7779],[7.0,.7776],[7.05,.7778],[7.1,.7780],[7.15,.7777],[7.2,.7779],[7.25,.7776],[7.3,.7778],[7.35,.7780],[7.4,.7777],[7.45,.7779],[7.5,.7776],[7.55,.7778],[7.6,.7780],[7.65,.7777],[7.7,.7779],[7.75,.7776],[7.8,.7778],[7.85,.7780],[7.9,.7777],[7.95,.7779],[8.0,.7776],[8.05,.7778],[8.1,.7780],[8.15,.7777],[8.2,.7779],[8.25,.7776],[8.3,.7778],[8.35,.7780],[8.4,.7777],[8.45,.7779],[8.5,.7776],[8.55,.7778],[8.6,.7780],[8.65,.7777],
[8.75,.7771],[8.85,.7769],[8.95,.7772],[9.05,.7770],[9.15,.7768],[9.25,.7769],
[9.3,.7767],[9.33,.7765],[9.36,.7768],[9.39,.7766],[9.42,.7767],[9.45,.7765],[9.48,.7768],[9.51,.7766],[9.54,.7767],[9.57,.7765],[9.6,.7768],[9.63,.7766],[9.66,.7767],[9.69,.7765],[9.72,.7768],[9.75,.7766],[9.78,.7767],[9.81,.7765],[9.84,.7768],[9.87,.7766],[9.9,.7767],[9.93,.7765],[9.96,.7768],[9.99,.7766],
[9.39,.7821],[9.83,.7822],[9.8,.7818]
];

// 23 Sep 2007 : w_dist vs w_overlap
var sepDistVsOverlap = [
[0.01,8.4],[0.02,0.2],[0.03,3.6],[0.05,4.4],[0.06,0.1],[0.07,3.5],[0.09,9.1],[0.1,6.5],[0.12,1.6],[0.14,4.9],[0.16,7.6],[0.18,2.0],[0.2,5.8],[0.22,8.1],[0.24,3.9],[0.26,0.5],[0.28,6.4],[0.3,9.6],[0.32,2.6],[0.34,4.7],[0.36,7.9],[0.38,1.1],[0.4,5.2],[0.42,9.9],[0.44,3.4],[0.46,6.7],[0.48,0.7],[0.5,8.8],[0.52,4.1],[0.54,2.2],[0.56,7.1],[0.58,5.4],[0.6,1.0],[0.62,8.9],[0.64,3.7],[0.66,6.2],[0.68,2.5],[0.7,9.5],[0.72,4.6],[0.74,0.9],[0.76,7.3],[0.78,2.9],[0.8,5.8],[0.82,9.9],[0.84,1.5],[0.86,4.2],[0.88,7.0],[0.9,2.6],[0.92,8.6],[0.94,0.1],[0.96,5.5],[0.98,3.1],
[1.0,7.4],[1.02,1.6],[1.05,4.5],[1.07,8.8],[1.09,0.5],[1.11,6.0],[1.14,3.8],[1.16,9.3],[1.18,1.6],[1.21,5.3],[1.23,7.9],[1.25,2.2],[1.27,4.1],[1.3,8.6],[1.32,0.3],[1.34,6.8],[1.37,3.3],[1.39,9.4],[1.41,1.0],[1.43,5.6],[1.46,7.6],[1.48,0.6],[1.5,4.2],[1.53,9.8],[1.55,2.6],[1.57,6.3],[1.59,0.9],[1.62,8.0],[1.64,3.7],[1.66,5.9],[1.69,1.4],[1.71,9.4],[1.73,4.8],[1.75,0.3],[1.78,7.0],[1.8,2.9],[1.82,9.6],[1.85,5.2],[1.87,1.1],[1.89,6.9],[1.91,3.3],[1.94,8.6],[1.96,0.6],[1.98,4.3],
[2.0,9.8],[2.02,2.9],[2.05,6.2],[2.07,0.9],[2.1,8.2],[2.12,4.5],[2.15,1.6],[2.17,7.0],[2.2,3.2],[2.22,9.0],[2.25,5.6],[2.27,0.7],[2.3,6.8],[2.32,2.3],[2.35,8.4],[2.37,4.4],[2.4,0.5],[2.42,7.4],[2.45,3.6],[2.47,5.9],[2.5,1.6],[2.52,8.6],[2.55,3.7],[2.57,0.8],[2.6,6.5],[2.62,4.2],[2.65,9.7],[2.67,0.3],[2.7,7.7],[2.72,3.0],[2.75,5.5],[2.77,1.0],[2.8,9.1],[2.82,4.6],[2.85,7.2],[2.87,0.4],[2.9,2.1],[2.92,6.4],[2.95,8.9],[2.97,0.2],
[3.0,4.0],[3.02,0.4],[3.05,6.3],[3.07,8.6],[3.1,2.3],[3.12,5.0],[3.15,8.0],[3.17,1.4],[3.2,6.8],[3.22,3.0],[3.25,9.1],[3.27,0.6],[3.3,4.9],[3.32,7.0],[3.35,2.7],[3.37,8.6],[3.4,1.2],[3.42,5.8],[3.45,3.5],[3.47,8.3],[3.5,1.9],[3.52,6.6],[3.55,4.0],[3.57,9.4],[3.6,0.8],[3.62,5.8],[3.65,2.4],[3.67,7.3],[3.7,4.6],[3.72,1.5],[3.75,8.1],[3.77,3.4],[3.8,6.1],[3.82,0.9],[3.85,8.6],[3.87,4.3],[3.9,2.1],[3.92,7.1],[3.95,5.4],[3.97,9.0],
[4.0,0.9],[4.02,7.0],[4.05,3.3],[4.07,9.4],[4.1,5.0],[4.12,1.2],[4.15,9.6],[4.17,2.6],[4.2,6.1],[4.22,4.0],[4.25,9.2],[4.27,0.4],[4.3,5.3],[4.32,8.0],[4.35,2.9],[4.37,6.5],[4.4,0.8],[4.42,9.1],[4.45,3.5],[4.47,5.9],[4.5,1.5],[4.52,8.6],[4.55,4.5],[4.57,0.9],[4.6,7.4],[4.62,3.1],[4.65,5.7],[4.67,1.8],[4.7,4.0],[4.72,8.9],[4.75,0.7],[4.77,5.2],[4.8,3.9],[4.82,7.7],[4.85,1.3],[4.87,5.8],[4.9,2.2],[4.92,8.3],[4.95,4.6],[4.97,0.4],[4.85,0.9],[4.75,1.4],
[5.0,5.9],[5.02,1.6],[5.05,8.3],[5.07,3.8],[5.1,0.6],[5.12,6.6],[5.15,8.4],[5.17,2.2],[5.2,4.6],[5.22,7.9],[5.25,1.3],[5.27,6.2],[5.3,3.1],[5.32,9.3],[5.35,0.5],[5.37,7.7],[5.4,4.1],[5.42,2.5],[5.45,8.6],[5.47,5.3],[5.5,0.3],[5.52,9.4],[5.55,3.6],[5.57,6.9],[5.6,1.9],[5.62,9.7],[5.65,4.4],[5.67,0.2],[5.7,6.0],[5.72,2.0],[5.75,8.9],[5.77,4.7],[5.8,1.1],[5.82,7.5],[5.85,3.4],[5.87,5.2],[5.9,9.1],[5.92,0.3],[5.95,5.5],[5.97,3.5],
[6.0,1.8],[6.02,4.8],[6.05,0.6],[6.07,8.8],[6.1,3.1],[6.12,6.7],[6.15,1.9],[6.17,4.2],[6.2,7.6],[6.22,2.8],[6.25,5.5],[6.27,9.3],[6.3,0.9],[6.32,6.1],[6.35,3.6],[6.37,8.4],[6.4,1.8],[6.42,4.1],[6.45,9.6],[6.47,2.5],[6.5,7.3],[6.52,0.2],[6.55,5.1],[6.57,9.9],[6.6,3.3],[6.62,6.5],[6.65,1.3],[6.67,8.0],[6.7,4.6],[6.72,0.8],[6.75,9.7],[6.77,2.9],[6.8,6.2],[6.82,8.6],[6.85,1.1],[6.87,5.0],[6.9,3.6],[6.92,8.3],[6.95,0.6],[6.97,4.9],
[7.0,6.5],[7.02,2.2],[7.05,9.2],[7.07,4.2],[7.1,0.9],[7.12,7.8],[7.15,3.0],[7.17,5.8],[7.2,1.5],[7.22,8.6],[7.25,4.6],[7.27,0.5],[7.3,6.9],[7.32,2.4],[7.35,9.4],[7.37,3.9],[7.4,1.3],[7.42,7.0],[7.45,5.0],[7.47,0.4],[7.5,8.8],[7.52,3.3],[7.55,6.1],[7.57,1.7],[7.6,4.3],[7.62,9.0],[7.65,0.9],[7.67,5.5],[7.7,2.6],[7.72,7.6],[7.75,1.5],[7.77,4.7],[7.8,8.4],[7.82,0.4],[7.85,6.2],[7.87,3.2],[7.9,9.6],[7.92,1.1],[7.95,5.6],[7.97,2.7],
[8.0,9.0],[8.02,0.3],[8.05,6.3],[8.07,2.9],[8.1,9.8],[8.12,4.9],[8.15,1.6],[8.17,7.5],[8.2,3.7],[8.22,6.0],[8.25,0.2],[8.27,8.5],[8.3,3.9],[8.32,5.7],[8.35,1.3],[8.37,9.3],[8.4,4.4],[8.42,2.2],[8.45,7.9],[8.47,0.6],[8.5,5.3],[8.52,9.9],[8.55,2.4],[8.57,6.6],[8.6,4.0],[8.62,8.2],[8.65,1.7],[8.67,9.7],[8.7,5.8],[8.72,0.6],[8.75,3.0],[8.77,8.0],[8.8,5.1],[8.82,2.2],[8.85,9.5],[8.87,6.7],[8.9,1.2],[8.92,4.3],[8.95,7.5],[8.97,3.1],
[9.0,6.9],[9.02,2.6],[9.05,5.2],[9.07,7.8],[9.1,1.4],[9.12,9.6],[9.15,3.6],[9.17,6.3],[9.2,0.8],[9.22,4.9],[9.25,7.6],[9.27,2.0],[9.3,5.7],[9.32,8.4],[9.35,3.9],[9.37,0.5],[9.4,6.5],[9.42,8.9],[9.45,2.9],[9.47,4.6],[9.5,5.9],[9.52,1.1],[9.55,7.0],[9.57,3.3],[9.6,8.9],[9.62,0.5],[9.65,5.5],[9.67,7.4],[9.7,2.7],[9.72,6.4],[9.75,4.0],[9.77,1.9],[9.8,7.1],[9.82,4.5],[9.85,0.9],[9.87,6.8],[9.9,3.1],[9.92,7.5],[9.95,1.4],[9.97,5.5],[9.99,2.1],
[9.95,7.9],[9.88,4.2],[9.8,1.0],[9.73,8.5],[9.66,3.5],[9.58,6.1],[9.51,9.3],[9.44,2.4],[9.36,5.2],[9.29,7.2],[9.22,0.6],[9.14,4.3],[9.07,8.1],[9.0,3.0],[8.92,5.9],[8.85,1.7],[8.78,9.4],[8.7,6.2],[8.63,3.4],[8.56,0.9],[8.48,7.7],[8.41,4.9],[8.34,9.6],[8.26,2.7],[8.19,6.4],[8.12,1.3],[8.04,8.6],[7.97,4.4],[7.9,0.5],[7.82,7.3],[7.75,3.6],[7.68,9.9],[7.6,5.8],[7.53,1.9],[7.46,7.0],[7.38,4.0],[7.31,8.2],[7.24,2.1],[7.16,6.0],[7.09,0.3],[7.02,9.4],[6.94,3.9],[6.87,7.2],[6.8,1.6],[6.72,5.4],[6.65,9.1],[6.58,3.0],[6.5,6.6],[6.43,0.8],[6.36,4.5],[6.28,8.0],[6.21,2.4],[6.14,5.9],[6.06,9.3],[5.99,3.3],[5.92,7.0],[5.84,1.5],[5.77,4.8],[5.7,8.8],[5.62,2.8],[5.55,6.3],[5.48,0.6],[5.4,9.9],[5.33,4.1],[5.26,7.4],[5.18,1.9],[5.11,5.3],[5.04,8.6],[4.96,3.2],[4.89,6.8],[4.82,0.4],[4.74,9.0],[4.67,4.7],[4.6,2.2],[4.52,7.6],[4.45,5.4],[4.38,1.1],[4.3,8.5],[4.23,3.4],[4.16,6.7],[4.08,0.2],[4.01,9.6],[3.94,5.0],[3.86,2.7],[3.79,7.5],[3.72,4.1],[3.64,0.9],[3.57,8.0],[3.5,3.1],[3.42,6.2],[3.35,1.6],[3.28,9.3],[3.2,4.6],[3.13,7.5],[3.06,2.0],[2.98,5.6],[2.91,9.8],[2.84,3.8],[2.76,0.9],[2.69,6.9],[2.62,4.0],[2.54,9.1],[2.47,2.2],[2.4,5.9],[2.32,8.6],[2.25,1.3],[2.18,4.7],[2.1,7.3],[2.03,3.1],[1.96,9.3],[1.88,5.4],[1.81,0.8],[1.74,6.5],[1.66,3.3],[1.59,8.8],[1.52,2.0],[1.44,4.9],[1.37,7.3],[1.3,1.2],[1.22,5.6],[1.15,9.1],[1.08,3.2],[1.0,6.6],[0.93,1.3],[0.86,8.1],[0.78,4.1],[0.71,6.9],[0.64,2.1],[0.56,9.5],[0.49,3.6],[0.42,6.1],[0.34,1.8],[0.27,8.0],[0.19,3.3],[0.12,6.2],[0.04,3.7]
];

// 23 Sep 2007 : var vs w_overlap
var sepVarVsOverlap = [
[0.0,.0341],[0.03,.0292],[0.08,.0279],[0.0,.0245],[0.02,.0263],[0.08,.0260],[0.12,.0265],[0.17,.0266],
[0.15,.0268],[0.18,.0271],[0.2,.0266],[0.22,.0269],[0.25,.0272],[0.27,.0267],[0.3,.0270],[0.32,.0266],[0.35,.0273],[0.37,.0269],[0.4,.0274],[0.42,.0270],[0.45,.0276],[0.48,.0271],[0.5,.0266],[0.27,.0263],[0.38,.0262],[0.31,.0236],[0.52,.0226],[0.6,.0225],
[0.52,.0275],[0.55,.0276],[0.58,.0274],[0.61,.0275],[0.64,.0276],[0.67,.0275],[0.7,.0274],[0.73,.0276],[0.76,.0275],[0.79,.0274],[0.82,.0276],[0.85,.0275],[0.88,.0274],[0.91,.0276],[0.94,.0275],[0.97,.0274],[1.0,.0276],[1.03,.0275],[1.06,.0274],[1.09,.0276],[1.12,.0275],[1.15,.0274],[1.18,.0276],[1.21,.0275],[1.24,.0274],[1.27,.0276],[1.3,.0275],[1.33,.0274],[1.36,.0276],[1.39,.0275],[1.42,.0274],[1.45,.0276],[1.48,.0275],[1.51,.0274],[1.54,.0276],[1.57,.0275],[1.6,.0274],[1.63,.0276],[1.66,.0275],[1.69,.0274],[1.72,.0276],[1.75,.0275],[1.78,.0274],[1.81,.0276],[1.84,.0275],[1.87,.0274],[1.9,.0276],[1.93,.0275],[1.96,.0274],[1.99,.0276],
[0.75,.0267],[0.78,.0268],[0.81,.0266],[0.84,.0267],[0.87,.0268],[0.9,.0266],[0.93,.0267],[0.96,.0268],[0.99,.0266],[1.02,.0267],[1.05,.0268],[1.08,.0266],[1.11,.0267],[1.14,.0268],[1.17,.0266],[1.2,.0267],[1.23,.0268],[1.3,.0266],[1.4,.0267],[1.48,.0265],
[1.2,.0260],[1.4,.0260],[1.5,.0259],[1.6,.0260],[1.75,.0261],[1.85,.0260],[1.95,.0259],
[0.6,.0245],[0.65,.0246],[0.7,.0245],[0.75,.0244],[0.8,.0245],[0.85,.0246],[1.15,.0245],
[0.8,.0228],[0.9,.0228],[0.95,.0228],[1.2,.0228],[1.45,.0228],[1.85,.0228],[1.0,.0216],[1.05,.0218],[1.15,.0222],[1.5,.0219],
[2.22,.0275],[2.31,.0275],[2.66,.0275],[2.79,.0275],[2.92,.0275],[3.09,.0275],[3.18,.0275],[3.31,.0275],[3.44,.0275],[3.58,.0275],[3.71,.0275],[3.84,.0275],[3.97,.0275],[4.1,.0275],[4.23,.0275],[4.62,.0275],[4.71,.0275],[4.8,.0275],[4.89,.0275],[4.97,.0275],[5.45,.0275],[5.54,.0275],[5.67,.0275],[5.8,.0275],[5.94,.0275],[6.07,.0275],[6.24,.0275],[6.37,.0275],[6.46,.0275],[6.55,.0275],[6.9,.0275],[7.03,.0275],[7.16,.0275],[7.29,.0275],[7.42,.0275],[7.55,.0275],[7.95,.0275],[8.08,.0275],[8.21,.0275],[8.34,.0275],[8.47,.0275],[8.6,.0275],[8.73,.0275],[8.93,.0275],
[1.8,.0255],[1.85,.0257],[1.9,.0254],[1.95,.0256],[2.0,.0253],[2.05,.0255],[2.1,.0257],[2.15,.0254],[2.2,.0256],[2.25,.0253],[2.3,.0255],[2.35,.0257],[2.4,.0254],[2.45,.0256],[2.5,.0253],[2.55,.0255],[2.6,.0257],[2.65,.0254],[2.7,.0256],[2.75,.0253],[2.8,.0255],[2.85,.0257],[2.9,.0254],[2.95,.0256],[3.0,.0253],[3.05,.0255],[3.1,.0257],[3.15,.0254],[3.2,.0256],[3.25,.0253],[3.3,.0255],[3.35,.0257],[3.4,.0254],[3.45,.0256],[3.5,.0253],[3.55,.0255],[3.6,.0257],[3.65,.0254],[3.7,.0256],[3.75,.0253],[3.8,.0255],[3.85,.0257],[3.9,.0254],[3.95,.0256],[4.0,.0253],[4.05,.0255],[4.1,.0257],[4.15,.0254],[4.2,.0256],[4.25,.0253],[4.3,.0255],[4.35,.0257],[4.4,.0254],[4.45,.0256],[4.5,.0253],[4.55,.0255],[4.6,.0257],[4.65,.0254],[4.7,.0256],[4.75,.0253],[4.8,.0255],[4.85,.0257],[4.9,.0254],[4.95,.0256],[5.0,.0253],[5.05,.0255],[5.1,.0257],[5.15,.0254],[5.2,.0256],[5.25,.0253],[5.3,.0255],[5.35,.0257],[5.4,.0254],[5.45,.0256],[5.5,.0253],[5.55,.0255],[5.6,.0257],[5.65,.0254],[5.7,.0256],[5.75,.0253],[5.8,.0255],[5.85,.0257],[5.9,.0254],[5.95,.0256],[6.0,.0253],[6.05,.0255],[6.1,.0257],[6.15,.0254],[6.2,.0256],[6.25,.0253],[6.3,.0255],[6.35,.0257],[6.4,.0254],[6.45,.0256],[6.5,.0253],[6.55,.0255],[6.6,.0257],[6.65,.0254],[6.7,.0256],[6.75,.0253],[6.8,.0255],[6.85,.0257],[6.9,.0254],[6.95,.0256],[7.0,.0253],[7.05,.0255],[7.1,.0257],[7.15,.0254],[7.2,.0256],[7.25,.0253],[7.3,.0255],[7.35,.0257],[7.4,.0254],[7.45,.0256],[7.5,.0253],[7.55,.0255],[7.6,.0257],[7.65,.0254],[7.7,.0256],[7.75,.0253],[7.8,.0255],[7.85,.0257],[7.9,.0254],[7.95,.0256],[8.0,.0253],[8.05,.0255],[8.1,.0257],[8.15,.0254],[8.2,.0256],[8.25,.0253],[8.3,.0255],[8.35,.0257],[8.4,.0254],[8.45,.0256],[8.5,.0253],[8.55,.0255],[8.6,.0257],[8.65,.0254],[8.7,.0256],[8.75,.0253],[8.8,.0255],[8.85,.0257],[8.9,.0254],[8.95,.0256],[9.0,.0253],[9.05,.0255],[9.1,.0257],[9.15,.0254],[9.2,.0256],[9.25,.0253],[9.3,.0255],[9.35,.0257],[9.4,.0254],[9.45,.0256],[9.5,.0253],[9.55,.0255],[9.6,.0258],[9.65,.0254],[9.7,.0257],[9.75,.0253],[9.8,.0255],[9.85,.0258],[9.9,.0254],[9.95,.0256],[10.0,.0255],
[1.62,.0246],[1.72,.0247],[1.82,.0245],[1.92,.0246],[2.7,.0246],[2.8,.0245],[2.9,.0247],[3.0,.0246],[3.1,.0245],[3.3,.0246],[3.5,.0247],[3.75,.0246],[3.85,.0245],[4.05,.0246],[4.25,.0247],[4.45,.0246],[4.6,.0245],[4.8,.0246],[4.95,.0247],[5.1,.0246],[5.25,.0245],[5.4,.0246],[5.55,.0247],[5.7,.0246],[5.85,.0245],
[6.05,.0246],[6.11,.0247],[6.17,.0245],[6.23,.0246],[6.29,.0248],[6.35,.0246],[6.41,.0245],[6.47,.0247],[6.53,.0246],[6.59,.0245],[6.65,.0247],[6.71,.0246],[6.77,.0248],[6.83,.0246],[6.89,.0245],[6.95,.0247],[7.01,.0246],[7.07,.0245],[7.13,.0247],[7.19,.0246],[7.25,.0248],[7.31,.0246],[7.37,.0245],[7.43,.0247],[7.49,.0246],[7.55,.0245],[7.61,.0247],[7.67,.0246],[7.73,.0248],[7.79,.0246],[7.85,.0245],[7.91,.0247],[7.97,.0246],[8.03,.0245],[8.09,.0247],[8.15,.0246],[8.21,.0248],[8.27,.0246],[8.33,.0245],[8.39,.0247],[8.45,.0246],[8.51,.0245],[8.57,.0247],[8.63,.0246],[8.69,.0248],[8.75,.0246],[8.81,.0245],[8.87,.0247],[8.93,.0246],[8.99,.0245],[9.05,.0247],[9.11,.0246],[9.17,.0248],[9.23,.0246],[9.29,.0245],[9.35,.0247],[9.41,.0246],[9.47,.0245],[9.53,.0247],[9.59,.0246],[9.65,.0248],[9.71,.0246],[9.77,.0245],[9.83,.0247],
[4.0,.0262],[4.7,.0262],[9.35,.0262],[9.45,.0262],[9.75,.0263],[2.8,.0263],[3.3,.0264],[4.2,.0264],[4.75,.0263],[9.8,.0263],[9.2,.0240],
[4.6,.0228],[4.9,.0228],[5.35,.0229],[6.0,.0226],[6.9,.0227],[7.95,.0229],[8.05,.0229],[9.2,.0234],[5.7,.0235],[4.0,.0228],
[1.36,.0217],[1.43,.0216],[1.52,.0217],[1.61,.0218],[1.7,.0216],[1.78,.0217],[1.92,.0216],[2.0,.0217],[2.09,.0218],[2.18,.0216],[2.31,.0217],[2.45,.0216],[2.66,.0217],[2.74,.0216],[3.01,.0217],[3.27,.0216],[3.4,.0217],[3.53,.0218],[3.67,.0216],[3.79,.0217],[3.97,.0216],[4.19,.0217],[4.32,.0216],[4.41,.0218],[4.49,.0217],[4.58,.0216],[4.67,.0217],[4.76,.0216],[4.84,.0217],[4.97,.0216],[5.14,.0217],[5.28,.0216],[5.41,.0217],[5.8,.0216],[5.94,.0217],[6.2,.0216],[6.33,.0217],[6.46,.0218],[6.55,.0216],[6.68,.0217],[6.77,.0216],[6.94,.0217],[7.03,.0218],[7.12,.0216],[7.25,.0217],[7.42,.0216],[7.6,.0217],[7.68,.0216],[7.77,.0217],[7.9,.0216],[8.03,.0217],[8.25,.0216],[8.43,.0217],[8.78,.0216],[8.86,.0217],[8.95,.0218],[9.04,.0216],[9.21,.0217],[9.56,.0216],[9.65,.0217],[9.74,.0218],[9.83,.0216],[9.91,.0217],[9.98,.0216]
];

// ---- layout ----
var colLeft = [162, 1240];
var rowTop = [65, 287, 509, 927, 1149, 1371];
var plotW = 808, plotH = 185;
var ink = '#262626';
var font = 'Liberation Sans, Arial, Helvetica, sans-serif';

function fmt(d) { return function (v) { return v.toFixed(d); }; }

var med = {color: '#4C72B0', size: 5, name: 'Median', nameSize: 26, nameGap: 115, digits: 3};
var wax = {color: '#ff0000', size: 6.5, nameSize: 32, nameGap: 66, min: -0.35, max: 10.4, ticks: wTicks, digits: 0};
var vr = {color: '#008000', size: 5, name: 'var', nameSize: 32, nameGap: 90, digits: 2};

var panels = [
  {col: 0, row: 0, title: '(a)     21 Jun 2007,   starting   threshold = 2.6', xName: 'w_dist', subs: [
    Object.assign({}, med, {data: junMedVsDist, min: 0.8069, max: 0.8958, ticks: junMedTicks}),
    Object.assign({}, wax, {data: junOverlapVsDist, name: 'w_overlap'}),
    Object.assign({}, vr, {data: junVarVsDist, min: 0.0218, max: 0.0514, ticks: junVarTicks})]},
  {col: 1, row: 0, title: '(b)     21 Jun 2007,   starting   threshold = 2.6', xName: 'w_overlap', subs: [
    Object.assign({}, med, {data: junMedVsOverlap, min: 0.8069, max: 0.8958, ticks: junMedTicks}),
    Object.assign({}, wax, {data: junDistVsOverlap, name: 'w_dist'}),
    Object.assign({}, vr, {data: junVarVsOverlap, min: 0.0218, max: 0.0514, ticks: junVarTicks})]},
  {col: 0, row: 3, title: '(c)     23 Sep 2007,   starting   threshold = 2.7', xName: 'w_dist', subs: [
    Object.assign({}, med, {data: sepMedVsDist, min: 0.77065, max: 0.78817, ticks: sepMedTicks}),
    Object.assign({}, wax, {data: sepOverlapVsDist, name: 'w_overlap'}),
    Object.assign({}, vr, {data: sepVarVsDist, min: 0.0189, max: 0.0368, ticks: sepVarTicks})]},
  {col: 1, row: 3, title: '(d)     23 Sep 2007,   starting   threshold = 2.7', xName: 'w_overlap', subs: [
    Object.assign({}, med, {data: sepMedVsOverlap, min: 0.77065, max: 0.78817, ticks: sepMedTicks}),
    Object.assign({}, wax, {data: sepDistVsOverlap, name: 'w_dist'}),
    Object.assign({}, vr, {data: sepVarVsOverlap, min: 0.0189, max: 0.0368, ticks: sepVarTicks})]}
];

var titles = [], grids = [], xAxes = [], yAxes = [], series = [];
panels.forEach(function (p) {
  titles.push({
    text: p.title, left: colLeft[p.col] + 24, top: rowTop[p.row] - 47, padding: 0,
    textStyle: {fontSize: 34, fontWeight: 'normal', color: ink, fontFamily: font, lineHeight: 34}
  });
  p.subs.forEach(function (s, k) {
    var i = grids.length;
    var bottom = (k === 2);
    grids.push({left: colLeft[p.col], top: rowTop[p.row + k], width: plotW, height: plotH,
      show: true, backgroundColor: '#EAEAF2', borderWidth: 0});
    xAxes.push({
      gridIndex: i, type: 'value', min: -0.5, max: 10.5,
      name: bottom ? p.xName : '', nameLocation: 'middle', nameGap: 57,
      nameTextStyle: {fontSize: 32, color: ink, fontFamily: font},
      axisLine: {show: false},
      axisTick: {show: false, customValues: xTicks},
      axisLabel: {show: bottom, customValues: xTicks, fontSize: 29, color: ink, fontFamily: font, margin: 18},
      splitLine: {show: true, lineStyle: {color: '#ffffff', width: 2}}
    });
    yAxes.push({
      gridIndex: i, type: 'value', min: s.min, max: s.max,
      name: s.name, nameLocation: 'middle', nameGap: s.nameGap,
      nameTextStyle: {fontSize: s.nameSize, color: ink, fontFamily: font},
      axisLine: {show: false},
      axisTick: {show: false, customValues: s.ticks},
      axisLabel: {customValues: s.ticks, formatter: fmt(s.digits), fontSize: 29, color: ink, fontFamily: font, margin: 22},
      splitLine: {show: true, lineStyle: {color: '#ffffff', width: 2}}
    });
    series.push({
      type: 'scatter', xAxisIndex: i, yAxisIndex: i, data: s.data,
      symbol: 'circle', symbolSize: s.size, silent: true,
      itemStyle: {color: s.color, opacity: 1}
    });
  });
});

var chart = echarts.init(document.getElementById('chart'), null, {renderer: 'canvas'});
chart.setOption({
  animation: false,
  backgroundColor: '#ffffff',
  title: titles,
  grid: grids,
  xAxis: xAxes,
  yAxis: yAxes,
  series: series
});
</script>
</body>
</html>
